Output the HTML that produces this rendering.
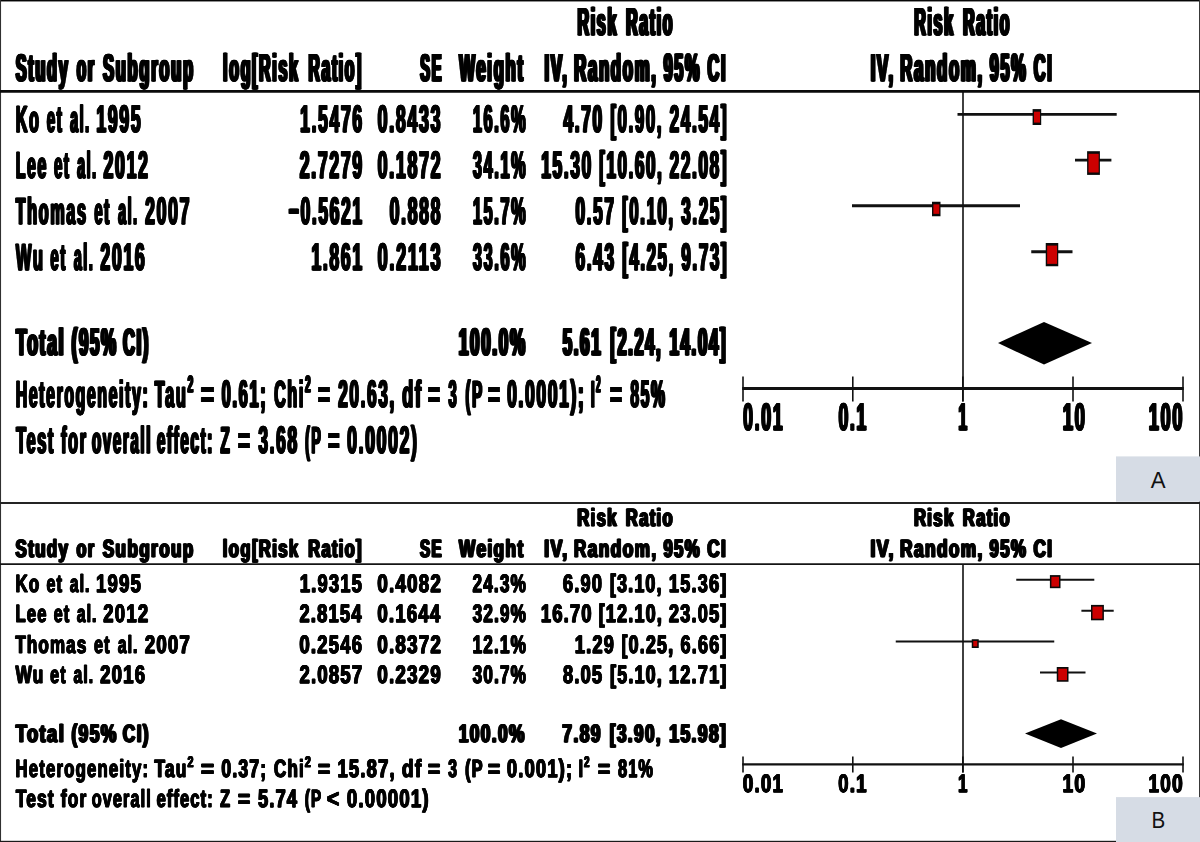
<!DOCTYPE html>
<html lang="en">
<head>
<meta charset="utf-8">
<title>Forest plots: Risk Ratio (IV, Random, 95% CI)</title>
<style>
html,body{margin:0;padding:0;background:#fff;}
body{width:1200px;height:842px;overflow:hidden;position:relative;font-family:"Liberation Sans",sans-serif;}
svg{position:absolute;left:0;top:0;display:block;}
svg{text-rendering:geometricPrecision;}
svg text{font-family:"Liberation Sans",sans-serif;font-weight:bold;font-size:40px;fill:#000;white-space:pre;}
svg text.pa{stroke:#000;stroke-width:0.9px;stroke-linejoin:round;}
svg text.pb{stroke:#000;stroke-width:1.2px;stroke-linejoin:round;}
svg text.lbl{font-weight:normal;font-size:23.4px;fill:#111;}
</style>
</head>
<body>
<svg width="1200" height="842" viewBox="0 0 1200 842">
<rect x="0" y="0" width="1200" height="842" fill="#ffffff"/>
<g id="graphics">
<line x1="963" y1="92" x2="963" y2="401.6" stroke="#111" stroke-width="1.6"/>
<line x1="742.2" y1="388.6" x2="1183.8" y2="388.6" stroke="#111" stroke-width="3.0"/>
<line x1="743" y1="376.4" x2="743" y2="401.6" stroke="#111" stroke-width="1.6"/>
<line x1="852.8" y1="376.4" x2="852.8" y2="401.6" stroke="#111" stroke-width="1.6"/>
<line x1="962.8" y1="376.4" x2="962.8" y2="401.6" stroke="#111" stroke-width="1.6"/>
<line x1="1073" y1="376.4" x2="1073" y2="401.6" stroke="#111" stroke-width="1.6"/>
<line x1="1183" y1="376.4" x2="1183" y2="401.6" stroke="#111" stroke-width="1.6"/>
<line x1="957.5" y1="114.4" x2="1116.7" y2="114.4" stroke="#111" stroke-width="2.8"/>
<rect x="1032.60" y="109.10" width="8.60" height="15.90" fill="#0a0a0a"/>
<rect x="1034.00" y="111.70" width="6.00" height="10.90" fill="#cc0000"/>
<line x1="1075" y1="160.2" x2="1111.4" y2="160.2" stroke="#111" stroke-width="2.8"/>
<rect x="1087.10" y="151.20" width="12.80" height="23.70" fill="#0a0a0a"/>
<rect x="1088.50" y="153.80" width="10.20" height="18.70" fill="#cc0000"/>
<line x1="852" y1="205.75" x2="1020" y2="205.75" stroke="#111" stroke-width="2.8"/>
<rect x="932.00" y="201.75" width="8.50" height="14.50" fill="#0a0a0a"/>
<rect x="933.40" y="204.35" width="5.90" height="9.50" fill="#cc0000"/>
<line x1="1031.25" y1="251.75" x2="1072.5" y2="251.75" stroke="#111" stroke-width="2.8"/>
<rect x="1045.75" y="243.00" width="12.50" height="23.25" fill="#0a0a0a"/>
<rect x="1047.15" y="245.60" width="9.90" height="18.25" fill="#cc0000"/>
<polygon points="998,343 1044,322 1092,343 1044,364.6" fill="#000"/>
<line x1="963" y1="564" x2="963" y2="772.4" stroke="#111" stroke-width="1.6"/>
<line x1="742.2" y1="764.4" x2="1183.8" y2="764.4" stroke="#111" stroke-width="2.2"/>
<line x1="743" y1="756.4" x2="743" y2="772.4" stroke="#111" stroke-width="1.6"/>
<line x1="852.8" y1="756.4" x2="852.8" y2="772.4" stroke="#111" stroke-width="1.6"/>
<line x1="962.8" y1="756.4" x2="962.8" y2="772.4" stroke="#111" stroke-width="1.6"/>
<line x1="1073" y1="756.4" x2="1073" y2="772.4" stroke="#111" stroke-width="1.6"/>
<line x1="1183" y1="756.4" x2="1183" y2="772.4" stroke="#111" stroke-width="1.6"/>
<line x1="1016.25" y1="579.8" x2="1094.3" y2="579.8" stroke="#111" stroke-width="2.0"/>
<rect x="1049.90" y="575.10" width="10.60" height="13.10" fill="#0a0a0a"/>
<rect x="1051.40" y="576.80" width="7.60" height="9.80" fill="#cc0000"/>
<line x1="1081.4" y1="610.7" x2="1113.7" y2="610.7" stroke="#111" stroke-width="2.0"/>
<rect x="1091.00" y="604.90" width="12.90" height="15.40" fill="#0a0a0a"/>
<rect x="1092.50" y="606.60" width="9.90" height="12.10" fill="#cc0000"/>
<line x1="895.75" y1="641.4" x2="1054.25" y2="641.4" stroke="#111" stroke-width="2.0"/>
<rect x="971.75" y="639.25" width="7.00" height="8.75" fill="#0a0a0a"/>
<rect x="973.25" y="640.95" width="4.00" height="5.45" fill="#cc0000"/>
<line x1="1040" y1="672.4" x2="1085.5" y2="672.4" stroke="#111" stroke-width="2.0"/>
<rect x="1056.75" y="667.00" width="11.75" height="14.75" fill="#0a0a0a"/>
<rect x="1058.25" y="668.70" width="8.75" height="11.45" fill="#cc0000"/>
<polygon points="1025,733.5 1061,719.25 1097,733.5 1061,748" fill="#000"/>
<rect x="0.00" y="0.00" width="1200.00" height="1.45" fill="#050505"/>
<rect x="0.00" y="0.00" width="1.05" height="842.00" fill="#303030"/>
<rect x="1199.00" y="0.00" width="1.00" height="842.00" fill="#383838"/>
<rect x="0.00" y="840.80" width="1200.00" height="1.20" fill="#1a1a1a"/>
<line x1="0" y1="91.45" x2="1200" y2="91.45" stroke="#0a0a0a" stroke-width="2.7"/>
<line x1="0" y1="502.9" x2="1200" y2="502.9" stroke="#242424" stroke-width="2.0"/>
<line x1="0" y1="564.1" x2="1200" y2="564.1" stroke="#141414" stroke-width="1.9"/>
<rect x="1116.00" y="456.40" width="84.00" height="45.30" fill="#d6dce5"/>
<rect x="1116.00" y="797.10" width="84.00" height="45.00" fill="#d6dce5"/>
</g>
<g id="labels" style="opacity:0.999">
<text class="pa" letter-spacing="4.20" transform="translate(576.44 35.00) scale(0.4002 0.9641)">Risk</text>
<text class="pa" aria-hidden="true" letter-spacing="4.20" transform="translate(576.95 35.00) scale(0.4002 0.9641)">Risk</text>
<text class="pa" aria-hidden="true" letter-spacing="4.20" transform="translate(577.46 35.00) scale(0.4002 0.9641)">Risk</text>
<text class="pa" aria-hidden="true" letter-spacing="4.20" transform="translate(577.97 35.00) scale(0.4002 0.9641)">Risk</text>
<text class="pa" aria-hidden="true" letter-spacing="4.20" transform="translate(578.48 35.00) scale(0.4002 0.9641)">Risk</text>
<text class="pa" letter-spacing="4.24" transform="translate(625.10 35.00) scale(0.3961 0.9641)">Ratio</text>
<text class="pa" aria-hidden="true" letter-spacing="4.24" transform="translate(625.61 35.00) scale(0.3961 0.9641)">Ratio</text>
<text class="pa" aria-hidden="true" letter-spacing="4.24" transform="translate(626.12 35.00) scale(0.3961 0.9641)">Ratio</text>
<text class="pa" aria-hidden="true" letter-spacing="4.24" transform="translate(626.63 35.00) scale(0.3961 0.9641)">Ratio</text>
<text class="pa" aria-hidden="true" letter-spacing="4.24" transform="translate(627.14 35.00) scale(0.3961 0.9641)">Ratio</text>
<text class="pa" letter-spacing="4.20" transform="translate(913.14 35.00) scale(0.4002 0.9641)">Risk</text>
<text class="pa" aria-hidden="true" letter-spacing="4.20" transform="translate(913.65 35.00) scale(0.4002 0.9641)">Risk</text>
<text class="pa" aria-hidden="true" letter-spacing="4.20" transform="translate(914.16 35.00) scale(0.4002 0.9641)">Risk</text>
<text class="pa" aria-hidden="true" letter-spacing="4.20" transform="translate(914.67 35.00) scale(0.4002 0.9641)">Risk</text>
<text class="pa" aria-hidden="true" letter-spacing="4.20" transform="translate(915.18 35.00) scale(0.4002 0.9641)">Risk</text>
<text class="pa" letter-spacing="4.24" transform="translate(962.10 35.00) scale(0.3961 0.9641)">Ratio</text>
<text class="pa" aria-hidden="true" letter-spacing="4.24" transform="translate(962.61 35.00) scale(0.3961 0.9641)">Ratio</text>
<text class="pa" aria-hidden="true" letter-spacing="4.24" transform="translate(963.12 35.00) scale(0.3961 0.9641)">Ratio</text>
<text class="pa" aria-hidden="true" letter-spacing="4.24" transform="translate(963.63 35.00) scale(0.3961 0.9641)">Ratio</text>
<text class="pa" aria-hidden="true" letter-spacing="4.24" transform="translate(964.14 35.00) scale(0.3961 0.9641)">Ratio</text>
<text class="pa" letter-spacing="4.13" transform="translate(14.69 81.00) scale(0.4077 0.9641)">Study</text>
<text class="pa" aria-hidden="true" letter-spacing="4.13" transform="translate(15.20 81.00) scale(0.4077 0.9641)">Study</text>
<text class="pa" aria-hidden="true" letter-spacing="4.13" transform="translate(15.71 81.00) scale(0.4077 0.9641)">Study</text>
<text class="pa" aria-hidden="true" letter-spacing="4.13" transform="translate(16.22 81.00) scale(0.4077 0.9641)">Study</text>
<text class="pa" aria-hidden="true" letter-spacing="4.13" transform="translate(16.73 81.00) scale(0.4077 0.9641)">Study</text>
<text class="pa" letter-spacing="4.35" transform="translate(75.81 81.00) scale(0.3839 0.9641)">or</text>
<text class="pa" aria-hidden="true" letter-spacing="4.35" transform="translate(76.32 81.00) scale(0.3839 0.9641)">or</text>
<text class="pa" aria-hidden="true" letter-spacing="4.35" transform="translate(76.83 81.00) scale(0.3839 0.9641)">or</text>
<text class="pa" aria-hidden="true" letter-spacing="4.35" transform="translate(77.34 81.00) scale(0.3839 0.9641)">or</text>
<text class="pa" aria-hidden="true" letter-spacing="4.35" transform="translate(77.85 81.00) scale(0.3839 0.9641)">or</text>
<text class="pa" letter-spacing="4.07" transform="translate(101.94 81.00) scale(0.4146 0.9641)">Subgroup</text>
<text class="pa" aria-hidden="true" letter-spacing="4.07" transform="translate(102.45 81.00) scale(0.4146 0.9641)">Subgroup</text>
<text class="pa" aria-hidden="true" letter-spacing="4.07" transform="translate(102.96 81.00) scale(0.4146 0.9641)">Subgroup</text>
<text class="pa" aria-hidden="true" letter-spacing="4.07" transform="translate(103.47 81.00) scale(0.4146 0.9641)">Subgroup</text>
<text class="pa" aria-hidden="true" letter-spacing="4.07" transform="translate(103.98 81.00) scale(0.4146 0.9641)">Subgroup</text>
<text class="pa" letter-spacing="4.20" transform="translate(222.06 81.00) scale(0.3998 0.9641)">log[Risk</text>
<text class="pa" aria-hidden="true" letter-spacing="4.20" transform="translate(222.57 81.00) scale(0.3998 0.9641)">log[Risk</text>
<text class="pa" aria-hidden="true" letter-spacing="4.20" transform="translate(223.08 81.00) scale(0.3998 0.9641)">log[Risk</text>
<text class="pa" aria-hidden="true" letter-spacing="4.20" transform="translate(223.59 81.00) scale(0.3998 0.9641)">log[Risk</text>
<text class="pa" aria-hidden="true" letter-spacing="4.20" transform="translate(224.10 81.00) scale(0.3998 0.9641)">log[Risk</text>
<text class="pa" letter-spacing="4.27" transform="translate(307.52 81.00) scale(0.3918 0.9641)">Ratio]</text>
<text class="pa" aria-hidden="true" letter-spacing="4.27" transform="translate(308.03 81.00) scale(0.3918 0.9641)">Ratio]</text>
<text class="pa" aria-hidden="true" letter-spacing="4.27" transform="translate(308.54 81.00) scale(0.3918 0.9641)">Ratio]</text>
<text class="pa" aria-hidden="true" letter-spacing="4.27" transform="translate(309.05 81.00) scale(0.3918 0.9641)">Ratio]</text>
<text class="pa" aria-hidden="true" letter-spacing="4.27" transform="translate(309.56 81.00) scale(0.3918 0.9641)">Ratio]</text>
<text class="pa" letter-spacing="4.56" transform="translate(419.33 81.00) scale(0.3632 0.9641)">SE</text>
<text class="pa" aria-hidden="true" letter-spacing="4.56" transform="translate(419.84 81.00) scale(0.3632 0.9641)">SE</text>
<text class="pa" aria-hidden="true" letter-spacing="4.56" transform="translate(420.35 81.00) scale(0.3632 0.9641)">SE</text>
<text class="pa" aria-hidden="true" letter-spacing="4.56" transform="translate(420.86 81.00) scale(0.3632 0.9641)">SE</text>
<text class="pa" aria-hidden="true" letter-spacing="4.56" transform="translate(421.37 81.00) scale(0.3632 0.9641)">SE</text>
<text class="pa" letter-spacing="4.05" transform="translate(458.19 81.00) scale(0.4176 0.9641)">Weight</text>
<text class="pa" aria-hidden="true" letter-spacing="4.05" transform="translate(458.70 81.00) scale(0.4176 0.9641)">Weight</text>
<text class="pa" aria-hidden="true" letter-spacing="4.05" transform="translate(459.21 81.00) scale(0.4176 0.9641)">Weight</text>
<text class="pa" aria-hidden="true" letter-spacing="4.05" transform="translate(459.72 81.00) scale(0.4176 0.9641)">Weight</text>
<text class="pa" aria-hidden="true" letter-spacing="4.05" transform="translate(460.23 81.00) scale(0.4176 0.9641)">Weight</text>
<text class="pa" letter-spacing="4.03" transform="translate(543.50 81.00) scale(0.4199 0.9641)">IV,</text>
<text class="pa" aria-hidden="true" letter-spacing="4.03" transform="translate(544.01 81.00) scale(0.4199 0.9641)">IV,</text>
<text class="pa" aria-hidden="true" letter-spacing="4.03" transform="translate(544.52 81.00) scale(0.4199 0.9641)">IV,</text>
<text class="pa" aria-hidden="true" letter-spacing="4.03" transform="translate(545.03 81.00) scale(0.4199 0.9641)">IV,</text>
<text class="pa" aria-hidden="true" letter-spacing="4.03" transform="translate(545.54 81.00) scale(0.4199 0.9641)">IV,</text>
<text class="pa" letter-spacing="4.04" transform="translate(573.10 81.00) scale(0.4188 0.9641)">Random,</text>
<text class="pa" aria-hidden="true" letter-spacing="4.04" transform="translate(573.61 81.00) scale(0.4188 0.9641)">Random,</text>
<text class="pa" aria-hidden="true" letter-spacing="4.04" transform="translate(574.12 81.00) scale(0.4188 0.9641)">Random,</text>
<text class="pa" aria-hidden="true" letter-spacing="4.04" transform="translate(574.63 81.00) scale(0.4188 0.9641)">Random,</text>
<text class="pa" aria-hidden="true" letter-spacing="4.04" transform="translate(575.14 81.00) scale(0.4188 0.9641)">Random,</text>
<text class="pa" letter-spacing="4.16" transform="translate(662.62 81.00) scale(0.4050 0.9837)">95%</text>
<text class="pa" aria-hidden="true" letter-spacing="4.16" transform="translate(663.13 81.00) scale(0.4050 0.9837)">95%</text>
<text class="pa" aria-hidden="true" letter-spacing="4.16" transform="translate(663.64 81.00) scale(0.4050 0.9837)">95%</text>
<text class="pa" aria-hidden="true" letter-spacing="4.16" transform="translate(664.15 81.00) scale(0.4050 0.9837)">95%</text>
<text class="pa" aria-hidden="true" letter-spacing="4.16" transform="translate(664.66 81.00) scale(0.4050 0.9837)">95%</text>
<text class="pa" letter-spacing="4.13" transform="translate(706.53 81.00) scale(0.4075 0.9641)">CI</text>
<text class="pa" aria-hidden="true" letter-spacing="4.13" transform="translate(707.04 81.00) scale(0.4075 0.9641)">CI</text>
<text class="pa" aria-hidden="true" letter-spacing="4.13" transform="translate(707.55 81.00) scale(0.4075 0.9641)">CI</text>
<text class="pa" aria-hidden="true" letter-spacing="4.13" transform="translate(708.06 81.00) scale(0.4075 0.9641)">CI</text>
<text class="pa" aria-hidden="true" letter-spacing="4.13" transform="translate(708.57 81.00) scale(0.4075 0.9641)">CI</text>
<text class="pa" letter-spacing="4.03" transform="translate(869.70 81.00) scale(0.4199 0.9641)">IV,</text>
<text class="pa" aria-hidden="true" letter-spacing="4.03" transform="translate(870.21 81.00) scale(0.4199 0.9641)">IV,</text>
<text class="pa" aria-hidden="true" letter-spacing="4.03" transform="translate(870.72 81.00) scale(0.4199 0.9641)">IV,</text>
<text class="pa" aria-hidden="true" letter-spacing="4.03" transform="translate(871.23 81.00) scale(0.4199 0.9641)">IV,</text>
<text class="pa" aria-hidden="true" letter-spacing="4.03" transform="translate(871.74 81.00) scale(0.4199 0.9641)">IV,</text>
<text class="pa" letter-spacing="4.04" transform="translate(899.30 81.00) scale(0.4188 0.9641)">Random,</text>
<text class="pa" aria-hidden="true" letter-spacing="4.04" transform="translate(899.81 81.00) scale(0.4188 0.9641)">Random,</text>
<text class="pa" aria-hidden="true" letter-spacing="4.04" transform="translate(900.32 81.00) scale(0.4188 0.9641)">Random,</text>
<text class="pa" aria-hidden="true" letter-spacing="4.04" transform="translate(900.83 81.00) scale(0.4188 0.9641)">Random,</text>
<text class="pa" aria-hidden="true" letter-spacing="4.04" transform="translate(901.34 81.00) scale(0.4188 0.9641)">Random,</text>
<text class="pa" letter-spacing="4.16" transform="translate(988.82 81.00) scale(0.4050 0.9837)">95%</text>
<text class="pa" aria-hidden="true" letter-spacing="4.16" transform="translate(989.33 81.00) scale(0.4050 0.9837)">95%</text>
<text class="pa" aria-hidden="true" letter-spacing="4.16" transform="translate(989.84 81.00) scale(0.4050 0.9837)">95%</text>
<text class="pa" aria-hidden="true" letter-spacing="4.16" transform="translate(990.35 81.00) scale(0.4050 0.9837)">95%</text>
<text class="pa" aria-hidden="true" letter-spacing="4.16" transform="translate(990.86 81.00) scale(0.4050 0.9837)">95%</text>
<text class="pa" letter-spacing="4.13" transform="translate(1032.73 81.00) scale(0.4075 0.9641)">CI</text>
<text class="pa" aria-hidden="true" letter-spacing="4.13" transform="translate(1033.24 81.00) scale(0.4075 0.9641)">CI</text>
<text class="pa" aria-hidden="true" letter-spacing="4.13" transform="translate(1033.75 81.00) scale(0.4075 0.9641)">CI</text>
<text class="pa" aria-hidden="true" letter-spacing="4.13" transform="translate(1034.26 81.00) scale(0.4075 0.9641)">CI</text>
<text class="pa" aria-hidden="true" letter-spacing="4.13" transform="translate(1034.77 81.00) scale(0.4075 0.9641)">CI</text>
<text class="pa" letter-spacing="4.19" transform="translate(15.14 132.00) scale(0.4014 0.9402)">Ko</text>
<text class="pa" aria-hidden="true" letter-spacing="4.19" transform="translate(15.58 132.00) scale(0.4014 0.9402)">Ko</text>
<text class="pa" aria-hidden="true" letter-spacing="4.19" transform="translate(16.02 132.00) scale(0.4014 0.9402)">Ko</text>
<text class="pa" aria-hidden="true" letter-spacing="4.19" transform="translate(16.46 132.00) scale(0.4014 0.9402)">Ko</text>
<text class="pa" letter-spacing="4.46" transform="translate(46.16 132.00) scale(0.3710 0.9402)">et</text>
<text class="pa" aria-hidden="true" letter-spacing="4.46" transform="translate(46.60 132.00) scale(0.3710 0.9402)">et</text>
<text class="pa" aria-hidden="true" letter-spacing="4.46" transform="translate(47.04 132.00) scale(0.3710 0.9402)">et</text>
<text class="pa" aria-hidden="true" letter-spacing="4.46" transform="translate(47.48 132.00) scale(0.3710 0.9402)">et</text>
<text class="pa" letter-spacing="4.68" transform="translate(69.58 132.00) scale(0.3492 0.9402)">al.</text>
<text class="pa" aria-hidden="true" letter-spacing="4.68" transform="translate(70.02 132.00) scale(0.3492 0.9402)">al.</text>
<text class="pa" aria-hidden="true" letter-spacing="4.68" transform="translate(70.46 132.00) scale(0.3492 0.9402)">al.</text>
<text class="pa" aria-hidden="true" letter-spacing="4.68" transform="translate(70.90 132.00) scale(0.3492 0.9402)">al.</text>
<text class="pa" letter-spacing="3.90" transform="translate(95.63 132.00) scale(0.4398 0.9594)">1995</text>
<text class="pa" aria-hidden="true" letter-spacing="3.90" transform="translate(96.07 132.00) scale(0.4398 0.9594)">1995</text>
<text class="pa" aria-hidden="true" letter-spacing="3.90" transform="translate(96.51 132.00) scale(0.4398 0.9594)">1995</text>
<text class="pa" aria-hidden="true" letter-spacing="3.90" transform="translate(96.95 132.00) scale(0.4398 0.9594)">1995</text>
<text class="pa" letter-spacing="4.26" transform="translate(15.16 178.00) scale(0.3925 0.9402)">Lee</text>
<text class="pa" aria-hidden="true" letter-spacing="4.26" transform="translate(15.60 178.00) scale(0.3925 0.9402)">Lee</text>
<text class="pa" aria-hidden="true" letter-spacing="4.26" transform="translate(16.04 178.00) scale(0.3925 0.9402)">Lee</text>
<text class="pa" aria-hidden="true" letter-spacing="4.26" transform="translate(16.48 178.00) scale(0.3925 0.9402)">Lee</text>
<text class="pa" letter-spacing="4.46" transform="translate(53.38 178.00) scale(0.3710 0.9402)">et</text>
<text class="pa" aria-hidden="true" letter-spacing="4.46" transform="translate(53.82 178.00) scale(0.3710 0.9402)">et</text>
<text class="pa" aria-hidden="true" letter-spacing="4.46" transform="translate(54.26 178.00) scale(0.3710 0.9402)">et</text>
<text class="pa" aria-hidden="true" letter-spacing="4.46" transform="translate(54.70 178.00) scale(0.3710 0.9402)">et</text>
<text class="pa" letter-spacing="4.68" transform="translate(76.59 178.00) scale(0.3492 0.9402)">al.</text>
<text class="pa" aria-hidden="true" letter-spacing="4.68" transform="translate(77.03 178.00) scale(0.3492 0.9402)">al.</text>
<text class="pa" aria-hidden="true" letter-spacing="4.68" transform="translate(77.47 178.00) scale(0.3492 0.9402)">al.</text>
<text class="pa" aria-hidden="true" letter-spacing="4.68" transform="translate(77.91 178.00) scale(0.3492 0.9402)">al.</text>
<text class="pa" letter-spacing="3.90" transform="translate(102.86 178.00) scale(0.4402 0.9594)">2012</text>
<text class="pa" aria-hidden="true" letter-spacing="3.90" transform="translate(103.30 178.00) scale(0.4402 0.9594)">2012</text>
<text class="pa" aria-hidden="true" letter-spacing="3.90" transform="translate(103.74 178.00) scale(0.4402 0.9594)">2012</text>
<text class="pa" aria-hidden="true" letter-spacing="3.90" transform="translate(104.18 178.00) scale(0.4402 0.9594)">2012</text>
<text class="pa" letter-spacing="4.17" transform="translate(15.02 224.00) scale(0.4033 0.9402)">Thomas</text>
<text class="pa" aria-hidden="true" letter-spacing="4.17" transform="translate(15.46 224.00) scale(0.4033 0.9402)">Thomas</text>
<text class="pa" aria-hidden="true" letter-spacing="4.17" transform="translate(15.90 224.00) scale(0.4033 0.9402)">Thomas</text>
<text class="pa" aria-hidden="true" letter-spacing="4.17" transform="translate(16.34 224.00) scale(0.4033 0.9402)">Thomas</text>
<text class="pa" letter-spacing="4.46" transform="translate(93.71 224.00) scale(0.3710 0.9402)">et</text>
<text class="pa" aria-hidden="true" letter-spacing="4.46" transform="translate(94.15 224.00) scale(0.3710 0.9402)">et</text>
<text class="pa" aria-hidden="true" letter-spacing="4.46" transform="translate(94.59 224.00) scale(0.3710 0.9402)">et</text>
<text class="pa" aria-hidden="true" letter-spacing="4.46" transform="translate(95.03 224.00) scale(0.3710 0.9402)">et</text>
<text class="pa" letter-spacing="4.68" transform="translate(117.56 224.00) scale(0.3492 0.9402)">al.</text>
<text class="pa" aria-hidden="true" letter-spacing="4.68" transform="translate(118.00 224.00) scale(0.3492 0.9402)">al.</text>
<text class="pa" aria-hidden="true" letter-spacing="4.68" transform="translate(118.44 224.00) scale(0.3492 0.9402)">al.</text>
<text class="pa" aria-hidden="true" letter-spacing="4.68" transform="translate(118.88 224.00) scale(0.3492 0.9402)">al.</text>
<text class="pa" letter-spacing="3.90" transform="translate(144.46 224.00) scale(0.4402 0.9594)">2007</text>
<text class="pa" aria-hidden="true" letter-spacing="3.90" transform="translate(144.90 224.00) scale(0.4402 0.9594)">2007</text>
<text class="pa" aria-hidden="true" letter-spacing="3.90" transform="translate(145.34 224.00) scale(0.4402 0.9594)">2007</text>
<text class="pa" aria-hidden="true" letter-spacing="3.90" transform="translate(145.78 224.00) scale(0.4402 0.9594)">2007</text>
<text class="pa" letter-spacing="4.10" transform="translate(15.19 270.00) scale(0.4125 0.9402)">Wu</text>
<text class="pa" aria-hidden="true" letter-spacing="4.10" transform="translate(15.63 270.00) scale(0.4125 0.9402)">Wu</text>
<text class="pa" aria-hidden="true" letter-spacing="4.10" transform="translate(16.07 270.00) scale(0.4125 0.9402)">Wu</text>
<text class="pa" aria-hidden="true" letter-spacing="4.10" transform="translate(16.51 270.00) scale(0.4125 0.9402)">Wu</text>
<text class="pa" letter-spacing="4.46" transform="translate(49.80 270.00) scale(0.3710 0.9402)">et</text>
<text class="pa" aria-hidden="true" letter-spacing="4.46" transform="translate(50.24 270.00) scale(0.3710 0.9402)">et</text>
<text class="pa" aria-hidden="true" letter-spacing="4.46" transform="translate(50.68 270.00) scale(0.3710 0.9402)">et</text>
<text class="pa" aria-hidden="true" letter-spacing="4.46" transform="translate(51.12 270.00) scale(0.3710 0.9402)">et</text>
<text class="pa" letter-spacing="4.68" transform="translate(73.25 270.00) scale(0.3492 0.9402)">al.</text>
<text class="pa" aria-hidden="true" letter-spacing="4.68" transform="translate(73.69 270.00) scale(0.3492 0.9402)">al.</text>
<text class="pa" aria-hidden="true" letter-spacing="4.68" transform="translate(74.13 270.00) scale(0.3492 0.9402)">al.</text>
<text class="pa" aria-hidden="true" letter-spacing="4.68" transform="translate(74.57 270.00) scale(0.3492 0.9402)">al.</text>
<text class="pa" letter-spacing="3.90" transform="translate(99.76 270.00) scale(0.4404 0.9594)">2016</text>
<text class="pa" aria-hidden="true" letter-spacing="3.90" transform="translate(100.20 270.00) scale(0.4404 0.9594)">2016</text>
<text class="pa" aria-hidden="true" letter-spacing="3.90" transform="translate(100.64 270.00) scale(0.4404 0.9594)">2016</text>
<text class="pa" aria-hidden="true" letter-spacing="3.90" transform="translate(101.08 270.00) scale(0.4404 0.9594)">2016</text>
<text class="pa" letter-spacing="3.92" transform="translate(299.45 132.00) scale(0.4369 0.9594)">1.5476</text>
<text class="pa" aria-hidden="true" letter-spacing="3.92" transform="translate(299.89 132.00) scale(0.4369 0.9594)">1.5476</text>
<text class="pa" aria-hidden="true" letter-spacing="3.92" transform="translate(300.33 132.00) scale(0.4369 0.9594)">1.5476</text>
<text class="pa" aria-hidden="true" letter-spacing="3.92" transform="translate(300.77 132.00) scale(0.4369 0.9594)">1.5476</text>
<text class="pa" letter-spacing="3.90" transform="translate(299.08 178.00) scale(0.4398 0.9594)">2.7279</text>
<text class="pa" aria-hidden="true" letter-spacing="3.90" transform="translate(299.52 178.00) scale(0.4398 0.9594)">2.7279</text>
<text class="pa" aria-hidden="true" letter-spacing="3.90" transform="translate(299.96 178.00) scale(0.4398 0.9594)">2.7279</text>
<text class="pa" aria-hidden="true" letter-spacing="3.90" transform="translate(300.40 178.00) scale(0.4398 0.9594)">2.7279</text>
<text class="pa" letter-spacing="3.95" transform="translate(288.10 224.00) scale(0.4324 0.9594)">−0.5621</text>
<text class="pa" aria-hidden="true" letter-spacing="3.95" transform="translate(288.54 224.00) scale(0.4324 0.9594)">−0.5621</text>
<text class="pa" aria-hidden="true" letter-spacing="3.95" transform="translate(288.98 224.00) scale(0.4324 0.9594)">−0.5621</text>
<text class="pa" aria-hidden="true" letter-spacing="3.95" transform="translate(289.42 224.00) scale(0.4324 0.9594)">−0.5621</text>
<text class="pa" letter-spacing="3.92" transform="translate(310.75 270.00) scale(0.4372 0.9594)">1.861</text>
<text class="pa" aria-hidden="true" letter-spacing="3.92" transform="translate(311.19 270.00) scale(0.4372 0.9594)">1.861</text>
<text class="pa" aria-hidden="true" letter-spacing="3.92" transform="translate(311.63 270.00) scale(0.4372 0.9594)">1.861</text>
<text class="pa" aria-hidden="true" letter-spacing="3.92" transform="translate(312.07 270.00) scale(0.4372 0.9594)">1.861</text>
<text class="pa" letter-spacing="3.88" transform="translate(376.99 132.00) scale(0.4429 0.9594)">0.8433</text>
<text class="pa" aria-hidden="true" letter-spacing="3.88" transform="translate(377.43 132.00) scale(0.4429 0.9594)">0.8433</text>
<text class="pa" aria-hidden="true" letter-spacing="3.88" transform="translate(377.87 132.00) scale(0.4429 0.9594)">0.8433</text>
<text class="pa" aria-hidden="true" letter-spacing="3.88" transform="translate(378.31 132.00) scale(0.4429 0.9594)">0.8433</text>
<text class="pa" letter-spacing="3.88" transform="translate(376.99 178.00) scale(0.4437 0.9594)">0.1872</text>
<text class="pa" aria-hidden="true" letter-spacing="3.88" transform="translate(377.43 178.00) scale(0.4437 0.9594)">0.1872</text>
<text class="pa" aria-hidden="true" letter-spacing="3.88" transform="translate(377.87 178.00) scale(0.4437 0.9594)">0.1872</text>
<text class="pa" aria-hidden="true" letter-spacing="3.88" transform="translate(378.31 178.00) scale(0.4437 0.9594)">0.1872</text>
<text class="pa" letter-spacing="3.91" transform="translate(389.00 224.00) scale(0.4385 0.9594)">0.888</text>
<text class="pa" aria-hidden="true" letter-spacing="3.91" transform="translate(389.44 224.00) scale(0.4385 0.9594)">0.888</text>
<text class="pa" aria-hidden="true" letter-spacing="3.91" transform="translate(389.88 224.00) scale(0.4385 0.9594)">0.888</text>
<text class="pa" aria-hidden="true" letter-spacing="3.91" transform="translate(390.32 224.00) scale(0.4385 0.9594)">0.888</text>
<text class="pa" letter-spacing="3.82" transform="translate(376.98 270.00) scale(0.4516 0.9594)">0.2113</text>
<text class="pa" aria-hidden="true" letter-spacing="3.82" transform="translate(377.42 270.00) scale(0.4516 0.9594)">0.2113</text>
<text class="pa" aria-hidden="true" letter-spacing="3.82" transform="translate(377.86 270.00) scale(0.4516 0.9594)">0.2113</text>
<text class="pa" aria-hidden="true" letter-spacing="3.82" transform="translate(378.30 270.00) scale(0.4516 0.9594)">0.2113</text>
<text class="pa" letter-spacing="4.16" transform="translate(472.21 132.00) scale(0.4052 0.9594)">16.6%</text>
<text class="pa" aria-hidden="true" letter-spacing="4.16" transform="translate(472.65 132.00) scale(0.4052 0.9594)">16.6%</text>
<text class="pa" aria-hidden="true" letter-spacing="4.16" transform="translate(473.09 132.00) scale(0.4052 0.9594)">16.6%</text>
<text class="pa" aria-hidden="true" letter-spacing="4.16" transform="translate(473.53 132.00) scale(0.4052 0.9594)">16.6%</text>
<text class="pa" letter-spacing="4.16" transform="translate(472.28 178.00) scale(0.4047 0.9594)">34.1%</text>
<text class="pa" aria-hidden="true" letter-spacing="4.16" transform="translate(472.72 178.00) scale(0.4047 0.9594)">34.1%</text>
<text class="pa" aria-hidden="true" letter-spacing="4.16" transform="translate(473.16 178.00) scale(0.4047 0.9594)">34.1%</text>
<text class="pa" aria-hidden="true" letter-spacing="4.16" transform="translate(473.60 178.00) scale(0.4047 0.9594)">34.1%</text>
<text class="pa" letter-spacing="4.16" transform="translate(472.21 224.00) scale(0.4052 0.9594)">15.7%</text>
<text class="pa" aria-hidden="true" letter-spacing="4.16" transform="translate(472.65 224.00) scale(0.4052 0.9594)">15.7%</text>
<text class="pa" aria-hidden="true" letter-spacing="4.16" transform="translate(473.09 224.00) scale(0.4052 0.9594)">15.7%</text>
<text class="pa" aria-hidden="true" letter-spacing="4.16" transform="translate(473.53 224.00) scale(0.4052 0.9594)">15.7%</text>
<text class="pa" letter-spacing="4.16" transform="translate(472.28 270.00) scale(0.4047 0.9594)">33.6%</text>
<text class="pa" aria-hidden="true" letter-spacing="4.16" transform="translate(472.72 270.00) scale(0.4047 0.9594)">33.6%</text>
<text class="pa" aria-hidden="true" letter-spacing="4.16" transform="translate(473.16 270.00) scale(0.4047 0.9594)">33.6%</text>
<text class="pa" aria-hidden="true" letter-spacing="4.16" transform="translate(473.60 270.00) scale(0.4047 0.9594)">33.6%</text>
<text class="pa" letter-spacing="3.97" transform="translate(562.84 132.00) scale(0.4297 0.9594)">4.70</text>
<text class="pa" aria-hidden="true" letter-spacing="3.97" transform="translate(563.28 132.00) scale(0.4297 0.9594)">4.70</text>
<text class="pa" aria-hidden="true" letter-spacing="3.97" transform="translate(563.72 132.00) scale(0.4297 0.9594)">4.70</text>
<text class="pa" aria-hidden="true" letter-spacing="3.97" transform="translate(564.16 132.00) scale(0.4297 0.9594)">4.70</text>
<text class="pa" letter-spacing="4.08" transform="translate(609.76 132.00) scale(0.4156 0.9594)">[0.90,</text>
<text class="pa" aria-hidden="true" letter-spacing="4.08" transform="translate(610.20 132.00) scale(0.4156 0.9594)">[0.90,</text>
<text class="pa" aria-hidden="true" letter-spacing="4.08" transform="translate(610.64 132.00) scale(0.4156 0.9594)">[0.90,</text>
<text class="pa" aria-hidden="true" letter-spacing="4.08" transform="translate(611.08 132.00) scale(0.4156 0.9594)">[0.90,</text>
<text class="pa" letter-spacing="3.99" transform="translate(669.00 132.00) scale(0.4269 0.9594)">24.54]</text>
<text class="pa" aria-hidden="true" letter-spacing="3.99" transform="translate(669.44 132.00) scale(0.4269 0.9594)">24.54]</text>
<text class="pa" aria-hidden="true" letter-spacing="3.99" transform="translate(669.88 132.00) scale(0.4269 0.9594)">24.54]</text>
<text class="pa" aria-hidden="true" letter-spacing="3.99" transform="translate(670.32 132.00) scale(0.4269 0.9594)">24.54]</text>
<text class="pa" letter-spacing="3.96" transform="translate(540.56 178.00) scale(0.4310 0.9594)">15.30</text>
<text class="pa" aria-hidden="true" letter-spacing="3.96" transform="translate(541.00 178.00) scale(0.4310 0.9594)">15.30</text>
<text class="pa" aria-hidden="true" letter-spacing="3.96" transform="translate(541.44 178.00) scale(0.4310 0.9594)">15.30</text>
<text class="pa" aria-hidden="true" letter-spacing="3.96" transform="translate(541.88 178.00) scale(0.4310 0.9594)">15.30</text>
<text class="pa" letter-spacing="4.04" transform="translate(598.53 178.00) scale(0.4206 0.9594)">[10.60,</text>
<text class="pa" aria-hidden="true" letter-spacing="4.04" transform="translate(598.97 178.00) scale(0.4206 0.9594)">[10.60,</text>
<text class="pa" aria-hidden="true" letter-spacing="4.04" transform="translate(599.41 178.00) scale(0.4206 0.9594)">[10.60,</text>
<text class="pa" aria-hidden="true" letter-spacing="4.04" transform="translate(599.85 178.00) scale(0.4206 0.9594)">[10.60,</text>
<text class="pa" letter-spacing="3.99" transform="translate(669.00 178.00) scale(0.4269 0.9594)">22.08]</text>
<text class="pa" aria-hidden="true" letter-spacing="3.99" transform="translate(669.44 178.00) scale(0.4269 0.9594)">22.08]</text>
<text class="pa" aria-hidden="true" letter-spacing="3.99" transform="translate(669.88 178.00) scale(0.4269 0.9594)">22.08]</text>
<text class="pa" aria-hidden="true" letter-spacing="3.99" transform="translate(670.32 178.00) scale(0.4269 0.9594)">22.08]</text>
<text class="pa" letter-spacing="3.98" transform="translate(574.81 224.00) scale(0.4285 0.9594)">0.57</text>
<text class="pa" aria-hidden="true" letter-spacing="3.98" transform="translate(575.25 224.00) scale(0.4285 0.9594)">0.57</text>
<text class="pa" aria-hidden="true" letter-spacing="3.98" transform="translate(575.69 224.00) scale(0.4285 0.9594)">0.57</text>
<text class="pa" aria-hidden="true" letter-spacing="3.98" transform="translate(576.13 224.00) scale(0.4285 0.9594)">0.57</text>
<text class="pa" letter-spacing="4.08" transform="translate(621.42 224.00) scale(0.4156 0.9594)">[0.10,</text>
<text class="pa" aria-hidden="true" letter-spacing="4.08" transform="translate(621.86 224.00) scale(0.4156 0.9594)">[0.10,</text>
<text class="pa" aria-hidden="true" letter-spacing="4.08" transform="translate(622.30 224.00) scale(0.4156 0.9594)">[0.10,</text>
<text class="pa" aria-hidden="true" letter-spacing="4.08" transform="translate(622.74 224.00) scale(0.4156 0.9594)">[0.10,</text>
<text class="pa" letter-spacing="4.02" transform="translate(680.61 224.00) scale(0.4231 0.9594)">3.25]</text>
<text class="pa" aria-hidden="true" letter-spacing="4.02" transform="translate(681.05 224.00) scale(0.4231 0.9594)">3.25]</text>
<text class="pa" aria-hidden="true" letter-spacing="4.02" transform="translate(681.49 224.00) scale(0.4231 0.9594)">3.25]</text>
<text class="pa" aria-hidden="true" letter-spacing="4.02" transform="translate(681.93 224.00) scale(0.4231 0.9594)">3.25]</text>
<text class="pa" letter-spacing="3.98" transform="translate(574.89 270.00) scale(0.4290 0.9594)">6.43</text>
<text class="pa" aria-hidden="true" letter-spacing="3.98" transform="translate(575.33 270.00) scale(0.4290 0.9594)">6.43</text>
<text class="pa" aria-hidden="true" letter-spacing="3.98" transform="translate(575.77 270.00) scale(0.4290 0.9594)">6.43</text>
<text class="pa" aria-hidden="true" letter-spacing="3.98" transform="translate(576.21 270.00) scale(0.4290 0.9594)">6.43</text>
<text class="pa" letter-spacing="4.08" transform="translate(621.62 270.00) scale(0.4156 0.9594)">[4.25,</text>
<text class="pa" aria-hidden="true" letter-spacing="4.08" transform="translate(622.06 270.00) scale(0.4156 0.9594)">[4.25,</text>
<text class="pa" aria-hidden="true" letter-spacing="4.08" transform="translate(622.50 270.00) scale(0.4156 0.9594)">[4.25,</text>
<text class="pa" aria-hidden="true" letter-spacing="4.08" transform="translate(622.94 270.00) scale(0.4156 0.9594)">[4.25,</text>
<text class="pa" letter-spacing="4.02" transform="translate(680.65 270.00) scale(0.4227 0.9594)">9.73]</text>
<text class="pa" aria-hidden="true" letter-spacing="4.02" transform="translate(681.09 270.00) scale(0.4227 0.9594)">9.73]</text>
<text class="pa" aria-hidden="true" letter-spacing="4.02" transform="translate(681.53 270.00) scale(0.4227 0.9594)">9.73]</text>
<text class="pa" aria-hidden="true" letter-spacing="4.02" transform="translate(681.97 270.00) scale(0.4227 0.9594)">9.73]</text>
<text class="pa" letter-spacing="3.88" transform="translate(15.02 355.00) scale(0.4390 0.9402)">Total</text>
<text class="pa" aria-hidden="true" letter-spacing="3.88" transform="translate(15.53 355.00) scale(0.4390 0.9402)">Total</text>
<text class="pa" aria-hidden="true" letter-spacing="3.88" transform="translate(16.04 355.00) scale(0.4390 0.9402)">Total</text>
<text class="pa" aria-hidden="true" letter-spacing="3.88" transform="translate(16.55 355.00) scale(0.4390 0.9402)">Total</text>
<text class="pa" aria-hidden="true" letter-spacing="3.88" transform="translate(17.06 355.00) scale(0.4390 0.9402)">Total</text>
<text class="pa" letter-spacing="4.01" transform="translate(70.60 355.00) scale(0.4220 0.9594)">(95%</text>
<text class="pa" aria-hidden="true" letter-spacing="4.01" transform="translate(71.11 355.00) scale(0.4220 0.9594)">(95%</text>
<text class="pa" aria-hidden="true" letter-spacing="4.01" transform="translate(71.62 355.00) scale(0.4220 0.9594)">(95%</text>
<text class="pa" aria-hidden="true" letter-spacing="4.01" transform="translate(72.13 355.00) scale(0.4220 0.9594)">(95%</text>
<text class="pa" aria-hidden="true" letter-spacing="4.01" transform="translate(72.64 355.00) scale(0.4220 0.9594)">(95%</text>
<text class="pa" letter-spacing="4.10" transform="translate(122.03 355.00) scale(0.4110 0.9402)">CI)</text>
<text class="pa" aria-hidden="true" letter-spacing="4.10" transform="translate(122.54 355.00) scale(0.4110 0.9402)">CI)</text>
<text class="pa" aria-hidden="true" letter-spacing="4.10" transform="translate(123.05 355.00) scale(0.4110 0.9402)">CI)</text>
<text class="pa" aria-hidden="true" letter-spacing="4.10" transform="translate(123.56 355.00) scale(0.4110 0.9402)">CI)</text>
<text class="pa" aria-hidden="true" letter-spacing="4.10" transform="translate(124.07 355.00) scale(0.4110 0.9402)">CI)</text>
<text class="pa" letter-spacing="3.99" transform="translate(457.87 355.00) scale(0.4252 0.9594)">100.0%</text>
<text class="pa" aria-hidden="true" letter-spacing="3.99" transform="translate(458.38 355.00) scale(0.4252 0.9594)">100.0%</text>
<text class="pa" aria-hidden="true" letter-spacing="3.99" transform="translate(458.89 355.00) scale(0.4252 0.9594)">100.0%</text>
<text class="pa" aria-hidden="true" letter-spacing="3.99" transform="translate(459.40 355.00) scale(0.4252 0.9594)">100.0%</text>
<text class="pa" aria-hidden="true" letter-spacing="3.99" transform="translate(459.91 355.00) scale(0.4252 0.9594)">100.0%</text>
<text class="pa" letter-spacing="4.02" transform="translate(561.68 355.00) scale(0.4208 0.9594)">5.61</text>
<text class="pa" aria-hidden="true" letter-spacing="4.02" transform="translate(562.19 355.00) scale(0.4208 0.9594)">5.61</text>
<text class="pa" aria-hidden="true" letter-spacing="4.02" transform="translate(562.70 355.00) scale(0.4208 0.9594)">5.61</text>
<text class="pa" aria-hidden="true" letter-spacing="4.02" transform="translate(563.21 355.00) scale(0.4208 0.9594)">5.61</text>
<text class="pa" aria-hidden="true" letter-spacing="4.02" transform="translate(563.72 355.00) scale(0.4208 0.9594)">5.61</text>
<text class="pa" letter-spacing="4.12" transform="translate(609.28 355.00) scale(0.4088 0.9594)">[2.24,</text>
<text class="pa" aria-hidden="true" letter-spacing="4.12" transform="translate(609.79 355.00) scale(0.4088 0.9594)">[2.24,</text>
<text class="pa" aria-hidden="true" letter-spacing="4.12" transform="translate(610.30 355.00) scale(0.4088 0.9594)">[2.24,</text>
<text class="pa" aria-hidden="true" letter-spacing="4.12" transform="translate(610.81 355.00) scale(0.4088 0.9594)">[2.24,</text>
<text class="pa" aria-hidden="true" letter-spacing="4.12" transform="translate(611.32 355.00) scale(0.4088 0.9594)">[2.24,</text>
<text class="pa" letter-spacing="4.03" transform="translate(668.51 355.00) scale(0.4200 0.9594)">14.04]</text>
<text class="pa" aria-hidden="true" letter-spacing="4.03" transform="translate(669.02 355.00) scale(0.4200 0.9594)">14.04]</text>
<text class="pa" aria-hidden="true" letter-spacing="4.03" transform="translate(669.53 355.00) scale(0.4200 0.9594)">14.04]</text>
<text class="pa" aria-hidden="true" letter-spacing="4.03" transform="translate(670.04 355.00) scale(0.4200 0.9594)">14.04]</text>
<text class="pa" aria-hidden="true" letter-spacing="4.03" transform="translate(670.55 355.00) scale(0.4200 0.9594)">14.04]</text>
<text class="pa" letter-spacing="4.16" transform="translate(15.52 453.00) scale(0.4051 0.9402)">Test</text>
<text class="pa" aria-hidden="true" letter-spacing="4.16" transform="translate(15.96 453.00) scale(0.4051 0.9402)">Test</text>
<text class="pa" aria-hidden="true" letter-spacing="4.16" transform="translate(16.40 453.00) scale(0.4051 0.9402)">Test</text>
<text class="pa" aria-hidden="true" letter-spacing="4.16" transform="translate(16.84 453.00) scale(0.4051 0.9402)">Test</text>
<text class="pa" letter-spacing="4.17" transform="translate(60.44 453.00) scale(0.4033 0.9402)">for</text>
<text class="pa" aria-hidden="true" letter-spacing="4.17" transform="translate(60.88 453.00) scale(0.4033 0.9402)">for</text>
<text class="pa" aria-hidden="true" letter-spacing="4.17" transform="translate(61.32 453.00) scale(0.4033 0.9402)">for</text>
<text class="pa" aria-hidden="true" letter-spacing="4.17" transform="translate(61.76 453.00) scale(0.4033 0.9402)">for</text>
<text class="pa" letter-spacing="4.41" transform="translate(91.37 453.00) scale(0.3756 0.9402)">overall</text>
<text class="pa" aria-hidden="true" letter-spacing="4.41" transform="translate(91.81 453.00) scale(0.3756 0.9402)">overall</text>
<text class="pa" aria-hidden="true" letter-spacing="4.41" transform="translate(92.25 453.00) scale(0.3756 0.9402)">overall</text>
<text class="pa" aria-hidden="true" letter-spacing="4.41" transform="translate(92.69 453.00) scale(0.3756 0.9402)">overall</text>
<text class="pa" letter-spacing="4.39" transform="translate(156.26 453.00) scale(0.3785 0.9402)">effect:</text>
<text class="pa" aria-hidden="true" letter-spacing="4.39" transform="translate(156.70 453.00) scale(0.3785 0.9402)">effect:</text>
<text class="pa" aria-hidden="true" letter-spacing="4.39" transform="translate(157.14 453.00) scale(0.3785 0.9402)">effect:</text>
<text class="pa" aria-hidden="true" letter-spacing="4.39" transform="translate(157.58 453.00) scale(0.3785 0.9402)">effect:</text>
<text class="pa" transform="translate(219.71 453.00) scale(0.3844 0.9402)">Z</text>
<text class="pa" aria-hidden="true" transform="translate(220.15 453.00) scale(0.3844 0.9402)">Z</text>
<text class="pa" aria-hidden="true" transform="translate(220.59 453.00) scale(0.3844 0.9402)">Z</text>
<text class="pa" aria-hidden="true" transform="translate(221.03 453.00) scale(0.3844 0.9402)">Z</text>
<text class="pa" transform="translate(237.42 453.00) scale(0.5062 0.9402)">=</text>
<text class="pa" aria-hidden="true" transform="translate(237.86 453.00) scale(0.5062 0.9402)">=</text>
<text class="pa" aria-hidden="true" transform="translate(238.30 453.00) scale(0.5062 0.9402)">=</text>
<text class="pa" aria-hidden="true" transform="translate(238.74 453.00) scale(0.5062 0.9402)">=</text>
<text class="pa" letter-spacing="3.96" transform="translate(257.76 453.00) scale(0.4308 0.9594)">3.68</text>
<text class="pa" aria-hidden="true" letter-spacing="3.96" transform="translate(258.20 453.00) scale(0.4308 0.9594)">3.68</text>
<text class="pa" aria-hidden="true" letter-spacing="3.96" transform="translate(258.64 453.00) scale(0.4308 0.9594)">3.68</text>
<text class="pa" aria-hidden="true" letter-spacing="3.96" transform="translate(259.08 453.00) scale(0.4308 0.9594)">3.68</text>
<text class="pa" letter-spacing="4.66" transform="translate(304.46 453.00) scale(0.3513 0.9402)">(P</text>
<text class="pa" aria-hidden="true" letter-spacing="4.66" transform="translate(304.90 453.00) scale(0.3513 0.9402)">(P</text>
<text class="pa" aria-hidden="true" letter-spacing="4.66" transform="translate(305.34 453.00) scale(0.3513 0.9402)">(P</text>
<text class="pa" aria-hidden="true" letter-spacing="4.66" transform="translate(305.78 453.00) scale(0.3513 0.9402)">(P</text>
<text class="pa" transform="translate(327.45 453.00) scale(0.4825 0.9402)">=</text>
<text class="pa" aria-hidden="true" transform="translate(327.89 453.00) scale(0.4825 0.9402)">=</text>
<text class="pa" aria-hidden="true" transform="translate(328.33 453.00) scale(0.4825 0.9402)">=</text>
<text class="pa" aria-hidden="true" transform="translate(328.77 453.00) scale(0.4825 0.9402)">=</text>
<text class="pa" letter-spacing="3.91" transform="translate(346.50 453.00) scale(0.4387 0.9594)">0.0002)</text>
<text class="pa" aria-hidden="true" letter-spacing="3.91" transform="translate(346.94 453.00) scale(0.4387 0.9594)">0.0002)</text>
<text class="pa" aria-hidden="true" letter-spacing="3.91" transform="translate(347.38 453.00) scale(0.4387 0.9594)">0.0002)</text>
<text class="pa" aria-hidden="true" letter-spacing="3.91" transform="translate(347.82 453.00) scale(0.4387 0.9594)">0.0002)</text>
<text class="pa" letter-spacing="3.90" transform="translate(742.49 430.00) scale(0.4406 0.9594)">0.01</text>
<text class="pa" aria-hidden="true" letter-spacing="3.90" transform="translate(742.93 430.00) scale(0.4406 0.9594)">0.01</text>
<text class="pa" aria-hidden="true" letter-spacing="3.90" transform="translate(743.37 430.00) scale(0.4406 0.9594)">0.01</text>
<text class="pa" aria-hidden="true" letter-spacing="3.90" transform="translate(743.81 430.00) scale(0.4406 0.9594)">0.01</text>
<text class="pa" letter-spacing="3.93" transform="translate(837.90 430.00) scale(0.4352 0.9594)">0.1</text>
<text class="pa" aria-hidden="true" letter-spacing="3.93" transform="translate(838.34 430.00) scale(0.4352 0.9594)">0.1</text>
<text class="pa" aria-hidden="true" letter-spacing="3.93" transform="translate(838.78 430.00) scale(0.4352 0.9594)">0.1</text>
<text class="pa" aria-hidden="true" letter-spacing="3.93" transform="translate(839.22 430.00) scale(0.4352 0.9594)">0.1</text>
<text class="pa" transform="translate(957.85 430.00) scale(0.3848 0.9594)">1</text>
<text class="pa" aria-hidden="true" transform="translate(958.29 430.00) scale(0.3848 0.9594)">1</text>
<text class="pa" aria-hidden="true" transform="translate(958.73 430.00) scale(0.3848 0.9594)">1</text>
<text class="pa" aria-hidden="true" transform="translate(959.17 430.00) scale(0.3848 0.9594)">1</text>
<text class="pa" letter-spacing="3.78" transform="translate(1062.11 430.00) scale(0.4588 0.9594)">10</text>
<text class="pa" aria-hidden="true" letter-spacing="3.78" transform="translate(1062.55 430.00) scale(0.4588 0.9594)">10</text>
<text class="pa" aria-hidden="true" letter-spacing="3.78" transform="translate(1062.99 430.00) scale(0.4588 0.9594)">10</text>
<text class="pa" aria-hidden="true" letter-spacing="3.78" transform="translate(1063.43 430.00) scale(0.4588 0.9594)">10</text>
<text class="pa" letter-spacing="3.83" transform="translate(1148.12 430.00) scale(0.4508 0.9594)">100</text>
<text class="pa" aria-hidden="true" letter-spacing="3.83" transform="translate(1148.56 430.00) scale(0.4508 0.9594)">100</text>
<text class="pa" aria-hidden="true" letter-spacing="3.83" transform="translate(1149.00 430.00) scale(0.4508 0.9594)">100</text>
<text class="pa" aria-hidden="true" letter-spacing="3.83" transform="translate(1149.44 430.00) scale(0.4508 0.9594)">100</text>
<text class="pb" letter-spacing="3.33" transform="translate(576.47 526.00) scale(0.4161 0.6209)">Risk</text>
<text class="pb" aria-hidden="true" letter-spacing="3.33" transform="translate(576.96 526.00) scale(0.4161 0.6209)">Risk</text>
<text class="pb" aria-hidden="true" letter-spacing="3.33" transform="translate(577.45 526.00) scale(0.4161 0.6209)">Risk</text>
<text class="pb" aria-hidden="true" letter-spacing="3.33" transform="translate(577.95 526.00) scale(0.4161 0.6209)">Risk</text>
<text class="pb" letter-spacing="3.35" transform="translate(625.12 526.00) scale(0.4128 0.6209)">Ratio</text>
<text class="pb" aria-hidden="true" letter-spacing="3.35" transform="translate(625.62 526.00) scale(0.4128 0.6209)">Ratio</text>
<text class="pb" aria-hidden="true" letter-spacing="3.35" transform="translate(626.11 526.00) scale(0.4128 0.6209)">Ratio</text>
<text class="pb" aria-hidden="true" letter-spacing="3.35" transform="translate(626.60 526.00) scale(0.4128 0.6209)">Ratio</text>
<text class="pb" letter-spacing="3.33" transform="translate(913.17 526.00) scale(0.4161 0.6209)">Risk</text>
<text class="pb" aria-hidden="true" letter-spacing="3.33" transform="translate(913.66 526.00) scale(0.4161 0.6209)">Risk</text>
<text class="pb" aria-hidden="true" letter-spacing="3.33" transform="translate(914.15 526.00) scale(0.4161 0.6209)">Risk</text>
<text class="pb" aria-hidden="true" letter-spacing="3.33" transform="translate(914.65 526.00) scale(0.4161 0.6209)">Risk</text>
<text class="pb" letter-spacing="3.35" transform="translate(962.12 526.00) scale(0.4128 0.6209)">Ratio</text>
<text class="pb" aria-hidden="true" letter-spacing="3.35" transform="translate(962.62 526.00) scale(0.4128 0.6209)">Ratio</text>
<text class="pb" aria-hidden="true" letter-spacing="3.35" transform="translate(963.11 526.00) scale(0.4128 0.6209)">Ratio</text>
<text class="pb" aria-hidden="true" letter-spacing="3.35" transform="translate(963.60 526.00) scale(0.4128 0.6209)">Ratio</text>
<text class="pb" letter-spacing="3.29" transform="translate(14.75 557.00) scale(0.4223 0.6209)">Study</text>
<text class="pb" aria-hidden="true" letter-spacing="3.29" transform="translate(15.24 557.00) scale(0.4223 0.6209)">Study</text>
<text class="pb" aria-hidden="true" letter-spacing="3.29" transform="translate(15.73 557.00) scale(0.4223 0.6209)">Study</text>
<text class="pb" aria-hidden="true" letter-spacing="3.29" transform="translate(16.23 557.00) scale(0.4223 0.6209)">Study</text>
<text class="pb" letter-spacing="3.41" transform="translate(75.85 557.00) scale(0.4028 0.6209)">or</text>
<text class="pb" aria-hidden="true" letter-spacing="3.41" transform="translate(76.35 557.00) scale(0.4028 0.6209)">or</text>
<text class="pb" aria-hidden="true" letter-spacing="3.41" transform="translate(76.84 557.00) scale(0.4028 0.6209)">or</text>
<text class="pb" aria-hidden="true" letter-spacing="3.41" transform="translate(77.33 557.00) scale(0.4028 0.6209)">or</text>
<text class="pb" letter-spacing="3.26" transform="translate(101.99 557.00) scale(0.4279 0.6209)">Subgroup</text>
<text class="pb" aria-hidden="true" letter-spacing="3.26" transform="translate(102.48 557.00) scale(0.4279 0.6209)">Subgroup</text>
<text class="pb" aria-hidden="true" letter-spacing="3.26" transform="translate(102.98 557.00) scale(0.4279 0.6209)">Subgroup</text>
<text class="pb" aria-hidden="true" letter-spacing="3.26" transform="translate(103.47 557.00) scale(0.4279 0.6209)">Subgroup</text>
<text class="pb" letter-spacing="3.33" transform="translate(222.09 557.00) scale(0.4158 0.6209)">log[Risk</text>
<text class="pb" aria-hidden="true" letter-spacing="3.33" transform="translate(222.58 557.00) scale(0.4158 0.6209)">log[Risk</text>
<text class="pb" aria-hidden="true" letter-spacing="3.33" transform="translate(223.07 557.00) scale(0.4158 0.6209)">log[Risk</text>
<text class="pb" aria-hidden="true" letter-spacing="3.33" transform="translate(223.57 557.00) scale(0.4158 0.6209)">log[Risk</text>
<text class="pb" letter-spacing="3.37" transform="translate(307.54 557.00) scale(0.4093 0.6209)">Ratio]</text>
<text class="pb" aria-hidden="true" letter-spacing="3.37" transform="translate(308.03 557.00) scale(0.4093 0.6209)">Ratio]</text>
<text class="pb" aria-hidden="true" letter-spacing="3.37" transform="translate(308.53 557.00) scale(0.4093 0.6209)">Ratio]</text>
<text class="pb" aria-hidden="true" letter-spacing="3.37" transform="translate(309.02 557.00) scale(0.4093 0.6209)">Ratio]</text>
<text class="pb" letter-spacing="3.58" transform="translate(419.37 557.00) scale(0.3777 0.6209)">SE</text>
<text class="pb" aria-hidden="true" letter-spacing="3.58" transform="translate(419.87 557.00) scale(0.3777 0.6209)">SE</text>
<text class="pb" aria-hidden="true" letter-spacing="3.58" transform="translate(420.36 557.00) scale(0.3777 0.6209)">SE</text>
<text class="pb" aria-hidden="true" letter-spacing="3.58" transform="translate(420.85 557.00) scale(0.3777 0.6209)">SE</text>
<text class="pb" letter-spacing="3.24" transform="translate(458.26 557.00) scale(0.4319 0.6209)">Weight</text>
<text class="pb" aria-hidden="true" letter-spacing="3.24" transform="translate(458.75 557.00) scale(0.4319 0.6209)">Weight</text>
<text class="pb" aria-hidden="true" letter-spacing="3.24" transform="translate(459.25 557.00) scale(0.4319 0.6209)">Weight</text>
<text class="pb" aria-hidden="true" letter-spacing="3.24" transform="translate(459.74 557.00) scale(0.4319 0.6209)">Weight</text>
<text class="pb" letter-spacing="3.17" transform="translate(543.51 557.00) scale(0.4442 0.6209)">IV,</text>
<text class="pb" aria-hidden="true" letter-spacing="3.17" transform="translate(544.00 557.00) scale(0.4442 0.6209)">IV,</text>
<text class="pb" aria-hidden="true" letter-spacing="3.17" transform="translate(544.50 557.00) scale(0.4442 0.6209)">IV,</text>
<text class="pb" aria-hidden="true" letter-spacing="3.17" transform="translate(544.99 557.00) scale(0.4442 0.6209)">IV,</text>
<text class="pb" letter-spacing="3.24" transform="translate(573.14 557.00) scale(0.4319 0.6209)">Random,</text>
<text class="pb" aria-hidden="true" letter-spacing="3.24" transform="translate(573.63 557.00) scale(0.4319 0.6209)">Random,</text>
<text class="pb" aria-hidden="true" letter-spacing="3.24" transform="translate(574.12 557.00) scale(0.4319 0.6209)">Random,</text>
<text class="pb" aria-hidden="true" letter-spacing="3.24" transform="translate(574.62 557.00) scale(0.4319 0.6209)">Random,</text>
<text class="pb" letter-spacing="3.32" transform="translate(662.67 557.00) scale(0.4181 0.6304)">95%</text>
<text class="pb" aria-hidden="true" letter-spacing="3.32" transform="translate(663.16 557.00) scale(0.4181 0.6304)">95%</text>
<text class="pb" aria-hidden="true" letter-spacing="3.32" transform="translate(663.65 557.00) scale(0.4181 0.6304)">95%</text>
<text class="pb" aria-hidden="true" letter-spacing="3.32" transform="translate(664.15 557.00) scale(0.4181 0.6304)">95%</text>
<text class="pb" letter-spacing="3.26" transform="translate(706.57 557.00) scale(0.4273 0.6209)">CI</text>
<text class="pb" aria-hidden="true" letter-spacing="3.26" transform="translate(707.07 557.00) scale(0.4273 0.6209)">CI</text>
<text class="pb" aria-hidden="true" letter-spacing="3.26" transform="translate(707.56 557.00) scale(0.4273 0.6209)">CI</text>
<text class="pb" aria-hidden="true" letter-spacing="3.26" transform="translate(708.05 557.00) scale(0.4273 0.6209)">CI</text>
<text class="pb" letter-spacing="3.17" transform="translate(869.71 557.00) scale(0.4442 0.6209)">IV,</text>
<text class="pb" aria-hidden="true" letter-spacing="3.17" transform="translate(870.20 557.00) scale(0.4442 0.6209)">IV,</text>
<text class="pb" aria-hidden="true" letter-spacing="3.17" transform="translate(870.70 557.00) scale(0.4442 0.6209)">IV,</text>
<text class="pb" aria-hidden="true" letter-spacing="3.17" transform="translate(871.19 557.00) scale(0.4442 0.6209)">IV,</text>
<text class="pb" letter-spacing="3.24" transform="translate(899.34 557.00) scale(0.4319 0.6209)">Random,</text>
<text class="pb" aria-hidden="true" letter-spacing="3.24" transform="translate(899.83 557.00) scale(0.4319 0.6209)">Random,</text>
<text class="pb" aria-hidden="true" letter-spacing="3.24" transform="translate(900.32 557.00) scale(0.4319 0.6209)">Random,</text>
<text class="pb" aria-hidden="true" letter-spacing="3.24" transform="translate(900.82 557.00) scale(0.4319 0.6209)">Random,</text>
<text class="pb" letter-spacing="3.32" transform="translate(988.87 557.00) scale(0.4181 0.6304)">95%</text>
<text class="pb" aria-hidden="true" letter-spacing="3.32" transform="translate(989.36 557.00) scale(0.4181 0.6304)">95%</text>
<text class="pb" aria-hidden="true" letter-spacing="3.32" transform="translate(989.85 557.00) scale(0.4181 0.6304)">95%</text>
<text class="pb" aria-hidden="true" letter-spacing="3.32" transform="translate(990.35 557.00) scale(0.4181 0.6304)">95%</text>
<text class="pb" letter-spacing="3.26" transform="translate(1032.77 557.00) scale(0.4273 0.6209)">CI</text>
<text class="pb" aria-hidden="true" letter-spacing="3.26" transform="translate(1033.27 557.00) scale(0.4273 0.6209)">CI</text>
<text class="pb" aria-hidden="true" letter-spacing="3.26" transform="translate(1033.76 557.00) scale(0.4273 0.6209)">CI</text>
<text class="pb" aria-hidden="true" letter-spacing="3.26" transform="translate(1034.25 557.00) scale(0.4273 0.6209)">CI</text>
<text class="pb" letter-spacing="2.81" transform="translate(15.16 592.00) scale(0.4216 0.6209)">Ko</text>
<text class="pb" aria-hidden="true" letter-spacing="2.81" transform="translate(15.50 592.00) scale(0.4216 0.6209)">Ko</text>
<text class="pb" aria-hidden="true" letter-spacing="2.81" transform="translate(15.84 592.00) scale(0.4216 0.6209)">Ko</text>
<text class="pb" letter-spacing="2.90" transform="translate(46.19 592.00) scale(0.4005 0.6209)">et</text>
<text class="pb" aria-hidden="true" letter-spacing="2.90" transform="translate(46.53 592.00) scale(0.4005 0.6209)">et</text>
<text class="pb" aria-hidden="true" letter-spacing="2.90" transform="translate(46.87 592.00) scale(0.4005 0.6209)">et</text>
<text class="pb" letter-spacing="2.96" transform="translate(69.62 592.00) scale(0.3856 0.6209)">al.</text>
<text class="pb" aria-hidden="true" letter-spacing="2.96" transform="translate(69.96 592.00) scale(0.3856 0.6209)">al.</text>
<text class="pb" aria-hidden="true" letter-spacing="2.96" transform="translate(70.30 592.00) scale(0.3856 0.6209)">al.</text>
<text class="pb" letter-spacing="2.67" transform="translate(95.66 592.00) scale(0.4623 0.6304)">1995</text>
<text class="pb" aria-hidden="true" letter-spacing="2.67" transform="translate(96.00 592.00) scale(0.4623 0.6304)">1995</text>
<text class="pb" aria-hidden="true" letter-spacing="2.67" transform="translate(96.34 592.00) scale(0.4623 0.6304)">1995</text>
<text class="pb" letter-spacing="2.84" transform="translate(15.17 622.00) scale(0.4154 0.6209)">Lee</text>
<text class="pb" aria-hidden="true" letter-spacing="2.84" transform="translate(15.51 622.00) scale(0.4154 0.6209)">Lee</text>
<text class="pb" aria-hidden="true" letter-spacing="2.84" transform="translate(15.85 622.00) scale(0.4154 0.6209)">Lee</text>
<text class="pb" letter-spacing="2.90" transform="translate(53.40 622.00) scale(0.4005 0.6209)">et</text>
<text class="pb" aria-hidden="true" letter-spacing="2.90" transform="translate(53.74 622.00) scale(0.4005 0.6209)">et</text>
<text class="pb" aria-hidden="true" letter-spacing="2.90" transform="translate(54.08 622.00) scale(0.4005 0.6209)">et</text>
<text class="pb" letter-spacing="2.96" transform="translate(76.62 622.00) scale(0.3856 0.6209)">al.</text>
<text class="pb" aria-hidden="true" letter-spacing="2.96" transform="translate(76.96 622.00) scale(0.3856 0.6209)">al.</text>
<text class="pb" aria-hidden="true" letter-spacing="2.96" transform="translate(77.30 622.00) scale(0.3856 0.6209)">al.</text>
<text class="pb" letter-spacing="2.67" transform="translate(102.91 622.00) scale(0.4626 0.6304)">2012</text>
<text class="pb" aria-hidden="true" letter-spacing="2.67" transform="translate(103.25 622.00) scale(0.4626 0.6304)">2012</text>
<text class="pb" aria-hidden="true" letter-spacing="2.67" transform="translate(103.59 622.00) scale(0.4626 0.6304)">2012</text>
<text class="pb" letter-spacing="2.81" transform="translate(15.08 653.00) scale(0.4229 0.6209)">Thomas</text>
<text class="pb" aria-hidden="true" letter-spacing="2.81" transform="translate(15.42 653.00) scale(0.4229 0.6209)">Thomas</text>
<text class="pb" aria-hidden="true" letter-spacing="2.81" transform="translate(15.76 653.00) scale(0.4229 0.6209)">Thomas</text>
<text class="pb" letter-spacing="2.90" transform="translate(93.74 653.00) scale(0.4005 0.6209)">et</text>
<text class="pb" aria-hidden="true" letter-spacing="2.90" transform="translate(94.08 653.00) scale(0.4005 0.6209)">et</text>
<text class="pb" aria-hidden="true" letter-spacing="2.90" transform="translate(94.42 653.00) scale(0.4005 0.6209)">et</text>
<text class="pb" letter-spacing="2.96" transform="translate(117.59 653.00) scale(0.3856 0.6209)">al.</text>
<text class="pb" aria-hidden="true" letter-spacing="2.96" transform="translate(117.93 653.00) scale(0.3856 0.6209)">al.</text>
<text class="pb" aria-hidden="true" letter-spacing="2.96" transform="translate(118.27 653.00) scale(0.3856 0.6209)">al.</text>
<text class="pb" letter-spacing="2.67" transform="translate(144.51 653.00) scale(0.4626 0.6304)">2007</text>
<text class="pb" aria-hidden="true" letter-spacing="2.67" transform="translate(144.85 653.00) scale(0.4626 0.6304)">2007</text>
<text class="pb" aria-hidden="true" letter-spacing="2.67" transform="translate(145.19 653.00) scale(0.4626 0.6304)">2007</text>
<text class="pb" letter-spacing="2.78" transform="translate(15.26 683.00) scale(0.4293 0.6209)">Wu</text>
<text class="pb" aria-hidden="true" letter-spacing="2.78" transform="translate(15.60 683.00) scale(0.4293 0.6209)">Wu</text>
<text class="pb" aria-hidden="true" letter-spacing="2.78" transform="translate(15.94 683.00) scale(0.4293 0.6209)">Wu</text>
<text class="pb" letter-spacing="2.90" transform="translate(49.82 683.00) scale(0.4005 0.6209)">et</text>
<text class="pb" aria-hidden="true" letter-spacing="2.90" transform="translate(50.16 683.00) scale(0.4005 0.6209)">et</text>
<text class="pb" aria-hidden="true" letter-spacing="2.90" transform="translate(50.50 683.00) scale(0.4005 0.6209)">et</text>
<text class="pb" letter-spacing="2.96" transform="translate(73.28 683.00) scale(0.3856 0.6209)">al.</text>
<text class="pb" aria-hidden="true" letter-spacing="2.96" transform="translate(73.62 683.00) scale(0.3856 0.6209)">al.</text>
<text class="pb" aria-hidden="true" letter-spacing="2.96" transform="translate(73.96 683.00) scale(0.3856 0.6209)">al.</text>
<text class="pb" letter-spacing="2.67" transform="translate(99.81 683.00) scale(0.4627 0.6304)">2016</text>
<text class="pb" aria-hidden="true" letter-spacing="2.67" transform="translate(100.15 683.00) scale(0.4627 0.6304)">2016</text>
<text class="pb" aria-hidden="true" letter-spacing="2.67" transform="translate(100.49 683.00) scale(0.4627 0.6304)">2016</text>
<text class="pb" letter-spacing="2.69" transform="translate(299.48 592.00) scale(0.4566 0.6304)">1.9315</text>
<text class="pb" aria-hidden="true" letter-spacing="2.69" transform="translate(299.82 592.00) scale(0.4566 0.6304)">1.9315</text>
<text class="pb" aria-hidden="true" letter-spacing="2.69" transform="translate(300.16 592.00) scale(0.4566 0.6304)">1.9315</text>
<text class="pb" letter-spacing="2.69" transform="translate(299.13 622.00) scale(0.4564 0.6304)">2.8154</text>
<text class="pb" aria-hidden="true" letter-spacing="2.69" transform="translate(299.47 622.00) scale(0.4564 0.6304)">2.8154</text>
<text class="pb" aria-hidden="true" letter-spacing="2.69" transform="translate(299.81 622.00) scale(0.4564 0.6304)">2.8154</text>
<text class="pb" letter-spacing="2.67" transform="translate(299.04 653.00) scale(0.4615 0.6304)">0.2546</text>
<text class="pb" aria-hidden="true" letter-spacing="2.67" transform="translate(299.38 653.00) scale(0.4615 0.6304)">0.2546</text>
<text class="pb" aria-hidden="true" letter-spacing="2.67" transform="translate(299.72 653.00) scale(0.4615 0.6304)">0.2546</text>
<text class="pb" letter-spacing="2.67" transform="translate(299.13 683.00) scale(0.4615 0.6304)">2.0857</text>
<text class="pb" aria-hidden="true" letter-spacing="2.67" transform="translate(299.47 683.00) scale(0.4615 0.6304)">2.0857</text>
<text class="pb" aria-hidden="true" letter-spacing="2.67" transform="translate(299.81 683.00) scale(0.4615 0.6304)">2.0857</text>
<text class="pb" letter-spacing="2.65" transform="translate(377.03 592.00) scale(0.4677 0.6304)">0.4082</text>
<text class="pb" aria-hidden="true" letter-spacing="2.65" transform="translate(377.37 592.00) scale(0.4677 0.6304)">0.4082</text>
<text class="pb" aria-hidden="true" letter-spacing="2.65" transform="translate(377.71 592.00) scale(0.4677 0.6304)">0.4082</text>
<text class="pb" letter-spacing="2.67" transform="translate(377.04 622.00) scale(0.4626 0.6304)">0.1644</text>
<text class="pb" aria-hidden="true" letter-spacing="2.67" transform="translate(377.38 622.00) scale(0.4626 0.6304)">0.1644</text>
<text class="pb" aria-hidden="true" letter-spacing="2.67" transform="translate(377.72 622.00) scale(0.4626 0.6304)">0.1644</text>
<text class="pb" letter-spacing="2.65" transform="translate(377.03 653.00) scale(0.4677 0.6304)">0.8372</text>
<text class="pb" aria-hidden="true" letter-spacing="2.65" transform="translate(377.37 653.00) scale(0.4677 0.6304)">0.8372</text>
<text class="pb" aria-hidden="true" letter-spacing="2.65" transform="translate(377.71 653.00) scale(0.4677 0.6304)">0.8372</text>
<text class="pb" letter-spacing="2.66" transform="translate(377.03 683.00) scale(0.4670 0.6304)">0.2329</text>
<text class="pb" aria-hidden="true" letter-spacing="2.66" transform="translate(377.37 683.00) scale(0.4670 0.6304)">0.2329</text>
<text class="pb" aria-hidden="true" letter-spacing="2.66" transform="translate(377.71 683.00) scale(0.4670 0.6304)">0.2329</text>
<text class="pb" letter-spacing="2.79" transform="translate(472.16 592.00) scale(0.4282 0.6304)">24.3%</text>
<text class="pb" aria-hidden="true" letter-spacing="2.79" transform="translate(472.50 592.00) scale(0.4282 0.6304)">24.3%</text>
<text class="pb" aria-hidden="true" letter-spacing="2.79" transform="translate(472.84 592.00) scale(0.4282 0.6304)">24.3%</text>
<text class="pb" letter-spacing="2.79" transform="translate(472.33 622.00) scale(0.4267 0.6304)">32.9%</text>
<text class="pb" aria-hidden="true" letter-spacing="2.79" transform="translate(472.67 622.00) scale(0.4267 0.6304)">32.9%</text>
<text class="pb" aria-hidden="true" letter-spacing="2.79" transform="translate(473.01 622.00) scale(0.4267 0.6304)">32.9%</text>
<text class="pb" letter-spacing="2.79" transform="translate(472.23 653.00) scale(0.4276 0.6304)">12.1%</text>
<text class="pb" aria-hidden="true" letter-spacing="2.79" transform="translate(472.57 653.00) scale(0.4276 0.6304)">12.1%</text>
<text class="pb" aria-hidden="true" letter-spacing="2.79" transform="translate(472.91 653.00) scale(0.4276 0.6304)">12.1%</text>
<text class="pb" letter-spacing="2.79" transform="translate(472.33 683.00) scale(0.4267 0.6304)">30.7%</text>
<text class="pb" aria-hidden="true" letter-spacing="2.79" transform="translate(472.67 683.00) scale(0.4267 0.6304)">30.7%</text>
<text class="pb" aria-hidden="true" letter-spacing="2.79" transform="translate(473.01 683.00) scale(0.4267 0.6304)">30.7%</text>
<text class="pb" letter-spacing="2.70" transform="translate(562.54 592.00) scale(0.4545 0.6304)">6.90</text>
<text class="pb" aria-hidden="true" letter-spacing="2.70" transform="translate(562.88 592.00) scale(0.4545 0.6304)">6.90</text>
<text class="pb" aria-hidden="true" letter-spacing="2.70" transform="translate(563.22 592.00) scale(0.4545 0.6304)">6.90</text>
<text class="pb" letter-spacing="2.73" transform="translate(609.57 592.00) scale(0.4452 0.6304)">[3.10,</text>
<text class="pb" aria-hidden="true" letter-spacing="2.73" transform="translate(609.91 592.00) scale(0.4452 0.6304)">[3.10,</text>
<text class="pb" aria-hidden="true" letter-spacing="2.73" transform="translate(610.25 592.00) scale(0.4452 0.6304)">[3.10,</text>
<text class="pb" letter-spacing="2.70" transform="translate(668.61 592.00) scale(0.4526 0.6304)">15.36]</text>
<text class="pb" aria-hidden="true" letter-spacing="2.70" transform="translate(668.95 592.00) scale(0.4526 0.6304)">15.36]</text>
<text class="pb" aria-hidden="true" letter-spacing="2.70" transform="translate(669.29 592.00) scale(0.4526 0.6304)">15.36]</text>
<text class="pb" letter-spacing="2.69" transform="translate(540.58 622.00) scale(0.4561 0.6304)">16.70</text>
<text class="pb" aria-hidden="true" letter-spacing="2.69" transform="translate(540.92 622.00) scale(0.4561 0.6304)">16.70</text>
<text class="pb" aria-hidden="true" letter-spacing="2.69" transform="translate(541.26 622.00) scale(0.4561 0.6304)">16.70</text>
<text class="pb" letter-spacing="2.72" transform="translate(598.30 622.00) scale(0.4487 0.6304)">[12.10,</text>
<text class="pb" aria-hidden="true" letter-spacing="2.72" transform="translate(598.64 622.00) scale(0.4487 0.6304)">[12.10,</text>
<text class="pb" aria-hidden="true" letter-spacing="2.72" transform="translate(598.98 622.00) scale(0.4487 0.6304)">[12.10,</text>
<text class="pb" letter-spacing="2.70" transform="translate(668.54 622.00) scale(0.4531 0.6304)">23.05]</text>
<text class="pb" aria-hidden="true" letter-spacing="2.70" transform="translate(668.88 622.00) scale(0.4531 0.6304)">23.05]</text>
<text class="pb" aria-hidden="true" letter-spacing="2.70" transform="translate(669.22 622.00) scale(0.4531 0.6304)">23.05]</text>
<text class="pb" letter-spacing="2.70" transform="translate(574.48 653.00) scale(0.4538 0.6304)">1.29</text>
<text class="pb" aria-hidden="true" letter-spacing="2.70" transform="translate(574.82 653.00) scale(0.4538 0.6304)">1.29</text>
<text class="pb" aria-hidden="true" letter-spacing="2.70" transform="translate(575.16 653.00) scale(0.4538 0.6304)">1.29</text>
<text class="pb" letter-spacing="2.73" transform="translate(621.13 653.00) scale(0.4452 0.6304)">[0.25,</text>
<text class="pb" aria-hidden="true" letter-spacing="2.73" transform="translate(621.47 653.00) scale(0.4452 0.6304)">[0.25,</text>
<text class="pb" aria-hidden="true" letter-spacing="2.73" transform="translate(621.81 653.00) scale(0.4452 0.6304)">[0.25,</text>
<text class="pb" letter-spacing="2.71" transform="translate(680.19 653.00) scale(0.4502 0.6304)">6.66]</text>
<text class="pb" aria-hidden="true" letter-spacing="2.71" transform="translate(680.53 653.00) scale(0.4502 0.6304)">6.66]</text>
<text class="pb" aria-hidden="true" letter-spacing="2.71" transform="translate(680.87 653.00) scale(0.4502 0.6304)">6.66]</text>
<text class="pb" letter-spacing="2.69" transform="translate(562.63 683.00) scale(0.4551 0.6304)">8.05</text>
<text class="pb" aria-hidden="true" letter-spacing="2.69" transform="translate(562.97 683.00) scale(0.4551 0.6304)">8.05</text>
<text class="pb" aria-hidden="true" letter-spacing="2.69" transform="translate(563.31 683.00) scale(0.4551 0.6304)">8.05</text>
<text class="pb" letter-spacing="2.73" transform="translate(609.78 683.00) scale(0.4452 0.6304)">[5.10,</text>
<text class="pb" aria-hidden="true" letter-spacing="2.73" transform="translate(610.12 683.00) scale(0.4452 0.6304)">[5.10,</text>
<text class="pb" aria-hidden="true" letter-spacing="2.73" transform="translate(610.46 683.00) scale(0.4452 0.6304)">[5.10,</text>
<text class="pb" letter-spacing="2.70" transform="translate(668.61 683.00) scale(0.4526 0.6304)">12.71]</text>
<text class="pb" aria-hidden="true" letter-spacing="2.70" transform="translate(668.95 683.00) scale(0.4526 0.6304)">12.71]</text>
<text class="pb" aria-hidden="true" letter-spacing="2.70" transform="translate(669.29 683.00) scale(0.4526 0.6304)">12.71]</text>
<text class="pb" letter-spacing="3.11" transform="translate(15.09 742.00) scale(0.4563 0.6209)">Total</text>
<text class="pb" aria-hidden="true" letter-spacing="3.11" transform="translate(15.58 742.00) scale(0.4563 0.6209)">Total</text>
<text class="pb" aria-hidden="true" letter-spacing="3.11" transform="translate(16.08 742.00) scale(0.4563 0.6209)">Total</text>
<text class="pb" aria-hidden="true" letter-spacing="3.11" transform="translate(16.57 742.00) scale(0.4563 0.6209)">Total</text>
<text class="pb" letter-spacing="3.21" transform="translate(70.64 742.00) scale(0.4363 0.6304)">(95%</text>
<text class="pb" aria-hidden="true" letter-spacing="3.21" transform="translate(71.13 742.00) scale(0.4363 0.6304)">(95%</text>
<text class="pb" aria-hidden="true" letter-spacing="3.21" transform="translate(71.63 742.00) scale(0.4363 0.6304)">(95%</text>
<text class="pb" aria-hidden="true" letter-spacing="3.21" transform="translate(72.12 742.00) scale(0.4363 0.6304)">(95%</text>
<text class="pb" letter-spacing="3.24" transform="translate(122.07 742.00) scale(0.4309 0.6209)">CI)</text>
<text class="pb" aria-hidden="true" letter-spacing="3.24" transform="translate(122.56 742.00) scale(0.4309 0.6209)">CI)</text>
<text class="pb" aria-hidden="true" letter-spacing="3.24" transform="translate(123.06 742.00) scale(0.4309 0.6209)">CI)</text>
<text class="pb" aria-hidden="true" letter-spacing="3.24" transform="translate(123.55 742.00) scale(0.4309 0.6209)">CI)</text>
<text class="pb" letter-spacing="3.23" transform="translate(457.92 742.00) scale(0.4328 0.6304)">100.0%</text>
<text class="pb" aria-hidden="true" letter-spacing="3.23" transform="translate(458.41 742.00) scale(0.4328 0.6304)">100.0%</text>
<text class="pb" aria-hidden="true" letter-spacing="3.23" transform="translate(458.91 742.00) scale(0.4328 0.6304)">100.0%</text>
<text class="pb" aria-hidden="true" letter-spacing="3.23" transform="translate(459.40 742.00) scale(0.4328 0.6304)">100.0%</text>
<text class="pb" letter-spacing="3.21" transform="translate(561.56 742.00) scale(0.4369 0.6304)">7.89</text>
<text class="pb" aria-hidden="true" letter-spacing="3.21" transform="translate(562.06 742.00) scale(0.4369 0.6304)">7.89</text>
<text class="pb" aria-hidden="true" letter-spacing="3.21" transform="translate(562.55 742.00) scale(0.4369 0.6304)">7.89</text>
<text class="pb" aria-hidden="true" letter-spacing="3.21" transform="translate(563.04 742.00) scale(0.4369 0.6304)">7.89</text>
<text class="pb" letter-spacing="3.26" transform="translate(609.10 742.00) scale(0.4279 0.6304)">[3.90,</text>
<text class="pb" aria-hidden="true" letter-spacing="3.26" transform="translate(609.59 742.00) scale(0.4279 0.6304)">[3.90,</text>
<text class="pb" aria-hidden="true" letter-spacing="3.26" transform="translate(610.09 742.00) scale(0.4279 0.6304)">[3.90,</text>
<text class="pb" aria-hidden="true" letter-spacing="3.26" transform="translate(610.58 742.00) scale(0.4279 0.6304)">[3.90,</text>
<text class="pb" letter-spacing="3.21" transform="translate(668.54 742.00) scale(0.4371 0.6304)">15.98]</text>
<text class="pb" aria-hidden="true" letter-spacing="3.21" transform="translate(669.03 742.00) scale(0.4371 0.6304)">15.98]</text>
<text class="pb" aria-hidden="true" letter-spacing="3.21" transform="translate(669.52 742.00) scale(0.4371 0.6304)">15.98]</text>
<text class="pb" aria-hidden="true" letter-spacing="3.21" transform="translate(670.02 742.00) scale(0.4371 0.6304)">15.98]</text>
<text class="pb" letter-spacing="2.78" transform="translate(15.59 807.00) scale(0.4300 0.6209)">Test</text>
<text class="pb" aria-hidden="true" letter-spacing="2.78" transform="translate(15.93 807.00) scale(0.4300 0.6209)">Test</text>
<text class="pb" aria-hidden="true" letter-spacing="2.78" transform="translate(16.27 807.00) scale(0.4300 0.6209)">Test</text>
<text class="pb" letter-spacing="2.78" transform="translate(60.50 807.00) scale(0.4312 0.6209)">for</text>
<text class="pb" aria-hidden="true" letter-spacing="2.78" transform="translate(60.84 807.00) scale(0.4312 0.6209)">for</text>
<text class="pb" aria-hidden="true" letter-spacing="2.78" transform="translate(61.18 807.00) scale(0.4312 0.6209)">for</text>
<text class="pb" letter-spacing="2.89" transform="translate(91.40 807.00) scale(0.4033 0.6209)">overall</text>
<text class="pb" aria-hidden="true" letter-spacing="2.89" transform="translate(91.74 807.00) scale(0.4033 0.6209)">overall</text>
<text class="pb" aria-hidden="true" letter-spacing="2.89" transform="translate(92.08 807.00) scale(0.4033 0.6209)">overall</text>
<text class="pb" letter-spacing="2.86" transform="translate(156.29 807.00) scale(0.4085 0.6209)">effect:</text>
<text class="pb" aria-hidden="true" letter-spacing="2.86" transform="translate(156.63 807.00) scale(0.4085 0.6209)">effect:</text>
<text class="pb" aria-hidden="true" letter-spacing="2.86" transform="translate(156.97 807.00) scale(0.4085 0.6209)">effect:</text>
<text class="pb" transform="translate(219.76 807.00) scale(0.4068 0.6209)">Z</text>
<text class="pb" aria-hidden="true" transform="translate(220.10 807.00) scale(0.4068 0.6209)">Z</text>
<text class="pb" aria-hidden="true" transform="translate(220.44 807.00) scale(0.4068 0.6209)">Z</text>
<text class="pb" transform="translate(237.47 807.00) scale(0.5290 0.6209)">=</text>
<text class="pb" aria-hidden="true" transform="translate(237.81 807.00) scale(0.5290 0.6209)">=</text>
<text class="pb" aria-hidden="true" transform="translate(238.15 807.00) scale(0.5290 0.6209)">=</text>
<text class="pb" letter-spacing="2.71" transform="translate(257.73 807.00) scale(0.4517 0.6304)">5.74</text>
<text class="pb" aria-hidden="true" letter-spacing="2.71" transform="translate(258.07 807.00) scale(0.4517 0.6304)">5.74</text>
<text class="pb" aria-hidden="true" letter-spacing="2.71" transform="translate(258.41 807.00) scale(0.4517 0.6304)">5.74</text>
<text class="pb" letter-spacing="3.00" transform="translate(304.47 807.00) scale(0.3786 0.6209)">(P</text>
<text class="pb" aria-hidden="true" letter-spacing="3.00" transform="translate(304.81 807.00) scale(0.3786 0.6209)">(P</text>
<text class="pb" aria-hidden="true" letter-spacing="3.00" transform="translate(305.15 807.00) scale(0.3786 0.6209)">(P</text>
<text class="pb" transform="translate(326.47 807.00) scale(0.5290 0.6209)">&lt;</text>
<text class="pb" aria-hidden="true" transform="translate(326.81 807.00) scale(0.5290 0.6209)">&lt;</text>
<text class="pb" aria-hidden="true" transform="translate(327.15 807.00) scale(0.5290 0.6209)">&lt;</text>
<text class="pb" letter-spacing="2.67" transform="translate(346.54 807.00) scale(0.4626 0.6304)">0.00001)</text>
<text class="pb" aria-hidden="true" letter-spacing="2.67" transform="translate(346.88 807.00) scale(0.4626 0.6304)">0.00001)</text>
<text class="pb" aria-hidden="true" letter-spacing="2.67" transform="translate(347.22 807.00) scale(0.4626 0.6304)">0.00001)</text>
<text class="pb" letter-spacing="2.66" transform="translate(742.53 792.00) scale(0.4660 0.6304)">0.01</text>
<text class="pb" aria-hidden="true" letter-spacing="2.66" transform="translate(742.87 792.00) scale(0.4660 0.6304)">0.01</text>
<text class="pb" aria-hidden="true" letter-spacing="2.66" transform="translate(743.21 792.00) scale(0.4660 0.6304)">0.01</text>
<text class="pb" letter-spacing="2.67" transform="translate(837.94 792.00) scale(0.4622 0.6304)">0.1</text>
<text class="pb" aria-hidden="true" letter-spacing="2.67" transform="translate(838.28 792.00) scale(0.4622 0.6304)">0.1</text>
<text class="pb" aria-hidden="true" letter-spacing="2.67" transform="translate(838.62 792.00) scale(0.4622 0.6304)">0.1</text>
<text class="pb" transform="translate(957.86 792.00) scale(0.4110 0.6304)">1</text>
<text class="pb" aria-hidden="true" transform="translate(958.20 792.00) scale(0.4110 0.6304)">1</text>
<text class="pb" aria-hidden="true" transform="translate(958.54 792.00) scale(0.4110 0.6304)">1</text>
<text class="pb" letter-spacing="2.61" transform="translate(1062.13 792.00) scale(0.4822 0.6304)">10</text>
<text class="pb" aria-hidden="true" letter-spacing="2.61" transform="translate(1062.47 792.00) scale(0.4822 0.6304)">10</text>
<text class="pb" aria-hidden="true" letter-spacing="2.61" transform="translate(1062.81 792.00) scale(0.4822 0.6304)">10</text>
<text class="pb" letter-spacing="2.64" transform="translate(1148.15 792.00) scale(0.4737 0.6304)">100</text>
<text class="pb" aria-hidden="true" letter-spacing="2.64" transform="translate(1148.49 792.00) scale(0.4737 0.6304)">100</text>
<text class="pb" aria-hidden="true" letter-spacing="2.64" transform="translate(1148.83 792.00) scale(0.4737 0.6304)">100</text>
<text class="pa" letter-spacing="4.26" transform="translate(15.15 407.00) scale(0.3932 0.9402)">Heterogeneity:</text>
<text class="pa" aria-hidden="true" letter-spacing="4.26" transform="translate(15.59 407.00) scale(0.3932 0.9402)">Heterogeneity:</text>
<text class="pa" aria-hidden="true" letter-spacing="4.26" transform="translate(16.03 407.00) scale(0.3932 0.9402)">Heterogeneity:</text>
<text class="pa" aria-hidden="true" letter-spacing="4.26" transform="translate(16.47 407.00) scale(0.3932 0.9402)">Heterogeneity:</text>
<text class="pa" letter-spacing="4.14" transform="translate(154.02 407.00) scale(0.4080 0.9402)">Tau<tspan dy="-16.0" font-size="24.8">2</tspan></text>
<text class="pa" aria-hidden="true" letter-spacing="4.14" transform="translate(154.46 407.00) scale(0.4080 0.9402)">Tau<tspan dy="-16.0" font-size="24.8">2</tspan></text>
<text class="pa" aria-hidden="true" letter-spacing="4.14" transform="translate(154.90 407.00) scale(0.4080 0.9402)">Tau<tspan dy="-16.0" font-size="24.8">2</tspan></text>
<text class="pa" aria-hidden="true" letter-spacing="4.14" transform="translate(155.34 407.00) scale(0.4080 0.9402)">Tau<tspan dy="-16.0" font-size="24.8">2</tspan></text>
<text class="pa" transform="translate(200.36 407.00) scale(0.5536 0.9402)">=</text>
<text class="pa" aria-hidden="true" transform="translate(200.80 407.00) scale(0.5536 0.9402)">=</text>
<text class="pa" aria-hidden="true" transform="translate(201.24 407.00) scale(0.5536 0.9402)">=</text>
<text class="pa" aria-hidden="true" transform="translate(201.68 407.00) scale(0.5536 0.9402)">=</text>
<text class="pa" letter-spacing="4.13" transform="translate(221.03 407.00) scale(0.4086 0.9594)">0.61;</text>
<text class="pa" aria-hidden="true" letter-spacing="4.13" transform="translate(221.47 407.00) scale(0.4086 0.9594)">0.61;</text>
<text class="pa" aria-hidden="true" letter-spacing="4.13" transform="translate(221.91 407.00) scale(0.4086 0.9594)">0.61;</text>
<text class="pa" aria-hidden="true" letter-spacing="4.13" transform="translate(222.35 407.00) scale(0.4086 0.9594)">0.61;</text>
<text class="pa" letter-spacing="4.20" transform="translate(273.54 407.00) scale(0.4005 0.9402)">Chi<tspan dy="-16.0" font-size="24.8">2</tspan></text>
<text class="pa" aria-hidden="true" letter-spacing="4.20" transform="translate(273.98 407.00) scale(0.4005 0.9402)">Chi<tspan dy="-16.0" font-size="24.8">2</tspan></text>
<text class="pa" aria-hidden="true" letter-spacing="4.20" transform="translate(274.42 407.00) scale(0.4005 0.9402)">Chi<tspan dy="-16.0" font-size="24.8">2</tspan></text>
<text class="pa" aria-hidden="true" letter-spacing="4.20" transform="translate(274.86 407.00) scale(0.4005 0.9402)">Chi<tspan dy="-16.0" font-size="24.8">2</tspan></text>
<text class="pa" transform="translate(317.42 407.00) scale(0.5062 0.9402)">=</text>
<text class="pa" aria-hidden="true" transform="translate(317.86 407.00) scale(0.5062 0.9402)">=</text>
<text class="pa" aria-hidden="true" transform="translate(318.30 407.00) scale(0.5062 0.9402)">=</text>
<text class="pa" aria-hidden="true" transform="translate(318.74 407.00) scale(0.5062 0.9402)">=</text>
<text class="pa" letter-spacing="3.99" transform="translate(337.59 407.00) scale(0.4270 0.9594)">20.63,</text>
<text class="pa" aria-hidden="true" letter-spacing="3.99" transform="translate(338.03 407.00) scale(0.4270 0.9594)">20.63,</text>
<text class="pa" aria-hidden="true" letter-spacing="3.99" transform="translate(338.47 407.00) scale(0.4270 0.9594)">20.63,</text>
<text class="pa" aria-hidden="true" letter-spacing="3.99" transform="translate(338.91 407.00) scale(0.4270 0.9594)">20.63,</text>
<text class="pa" letter-spacing="3.79" transform="translate(401.47 407.00) scale(0.4568 0.9402)">df</text>
<text class="pa" aria-hidden="true" letter-spacing="3.79" transform="translate(401.91 407.00) scale(0.4568 0.9402)">df</text>
<text class="pa" aria-hidden="true" letter-spacing="3.79" transform="translate(402.35 407.00) scale(0.4568 0.9402)">df</text>
<text class="pa" aria-hidden="true" letter-spacing="3.79" transform="translate(402.79 407.00) scale(0.4568 0.9402)">df</text>
<text class="pa" transform="translate(427.42 407.00) scale(0.5062 0.9402)">=</text>
<text class="pa" aria-hidden="true" transform="translate(427.86 407.00) scale(0.5062 0.9402)">=</text>
<text class="pa" aria-hidden="true" transform="translate(428.30 407.00) scale(0.5062 0.9402)">=</text>
<text class="pa" aria-hidden="true" transform="translate(428.74 407.00) scale(0.5062 0.9402)">=</text>
<text class="pa" transform="translate(447.80 407.00) scale(0.3710 0.9594)">3</text>
<text class="pa" aria-hidden="true" transform="translate(448.24 407.00) scale(0.3710 0.9594)">3</text>
<text class="pa" aria-hidden="true" transform="translate(448.68 407.00) scale(0.3710 0.9594)">3</text>
<text class="pa" aria-hidden="true" transform="translate(449.12 407.00) scale(0.3710 0.9594)">3</text>
<text class="pa" letter-spacing="4.38" transform="translate(464.71 407.00) scale(0.3798 0.9402)">(P</text>
<text class="pa" aria-hidden="true" letter-spacing="4.38" transform="translate(465.15 407.00) scale(0.3798 0.9402)">(P</text>
<text class="pa" aria-hidden="true" letter-spacing="4.38" transform="translate(465.59 407.00) scale(0.3798 0.9402)">(P</text>
<text class="pa" aria-hidden="true" letter-spacing="4.38" transform="translate(466.03 407.00) scale(0.3798 0.9402)">(P</text>
<text class="pa" transform="translate(487.42 407.00) scale(0.5062 0.9402)">=</text>
<text class="pa" aria-hidden="true" transform="translate(487.86 407.00) scale(0.5062 0.9402)">=</text>
<text class="pa" aria-hidden="true" transform="translate(488.30 407.00) scale(0.5062 0.9402)">=</text>
<text class="pa" aria-hidden="true" transform="translate(488.74 407.00) scale(0.5062 0.9402)">=</text>
<text class="pa" letter-spacing="3.94" transform="translate(506.50 407.00) scale(0.4340 0.9594)">0.0001);</text>
<text class="pa" aria-hidden="true" letter-spacing="3.94" transform="translate(506.94 407.00) scale(0.4340 0.9594)">0.0001);</text>
<text class="pa" aria-hidden="true" letter-spacing="3.94" transform="translate(507.38 407.00) scale(0.4340 0.9594)">0.0001);</text>
<text class="pa" aria-hidden="true" letter-spacing="3.94" transform="translate(507.82 407.00) scale(0.4340 0.9594)">0.0001);</text>
<text class="pa" letter-spacing="5.04" transform="translate(590.31 407.00) scale(0.3188 0.9402)">I<tspan dy="-16.0" font-size="24.8">2</tspan></text>
<text class="pa" aria-hidden="true" letter-spacing="5.04" transform="translate(590.75 407.00) scale(0.3188 0.9402)">I<tspan dy="-16.0" font-size="24.8">2</tspan></text>
<text class="pa" aria-hidden="true" letter-spacing="5.04" transform="translate(591.19 407.00) scale(0.3188 0.9402)">I<tspan dy="-16.0" font-size="24.8">2</tspan></text>
<text class="pa" aria-hidden="true" letter-spacing="5.04" transform="translate(591.63 407.00) scale(0.3188 0.9402)">I<tspan dy="-16.0" font-size="24.8">2</tspan></text>
<text class="pa" transform="translate(609.42 407.00) scale(0.5062 0.9402)">=</text>
<text class="pa" aria-hidden="true" transform="translate(609.86 407.00) scale(0.5062 0.9402)">=</text>
<text class="pa" aria-hidden="true" transform="translate(610.30 407.00) scale(0.5062 0.9402)">=</text>
<text class="pa" aria-hidden="true" transform="translate(610.74 407.00) scale(0.5062 0.9402)">=</text>
<text class="pa" letter-spacing="4.29" transform="translate(629.71 407.00) scale(0.3893 0.9594)">85%</text>
<text class="pa" aria-hidden="true" letter-spacing="4.29" transform="translate(630.15 407.00) scale(0.3893 0.9594)">85%</text>
<text class="pa" aria-hidden="true" letter-spacing="4.29" transform="translate(630.59 407.00) scale(0.3893 0.9594)">85%</text>
<text class="pa" aria-hidden="true" letter-spacing="4.29" transform="translate(631.03 407.00) scale(0.3893 0.9594)">85%</text>
<text class="pb" letter-spacing="2.83" transform="translate(15.16 777.00) scale(0.4183 0.6209)">Heterogeneity:</text>
<text class="pb" aria-hidden="true" letter-spacing="2.83" transform="translate(15.50 777.00) scale(0.4183 0.6209)">Heterogeneity:</text>
<text class="pb" aria-hidden="true" letter-spacing="2.83" transform="translate(15.84 777.00) scale(0.4183 0.6209)">Heterogeneity:</text>
<text class="pb" letter-spacing="2.77" transform="translate(154.09 777.00) scale(0.4323 0.6209)">Tau<tspan dy="-16.0" font-size="24.8">2</tspan></text>
<text class="pb" aria-hidden="true" letter-spacing="2.77" transform="translate(154.43 777.00) scale(0.4323 0.6209)">Tau<tspan dy="-16.0" font-size="24.8">2</tspan></text>
<text class="pb" aria-hidden="true" letter-spacing="2.77" transform="translate(154.77 777.00) scale(0.4323 0.6209)">Tau<tspan dy="-16.0" font-size="24.8">2</tspan></text>
<text class="pb" transform="translate(200.42 777.00) scale(0.5757 0.6209)">=</text>
<text class="pb" aria-hidden="true" transform="translate(200.76 777.00) scale(0.5757 0.6209)">=</text>
<text class="pb" aria-hidden="true" transform="translate(201.10 777.00) scale(0.5757 0.6209)">=</text>
<text class="pb" letter-spacing="2.76" transform="translate(221.06 777.00) scale(0.4368 0.6304)">0.37;</text>
<text class="pb" aria-hidden="true" letter-spacing="2.76" transform="translate(221.40 777.00) scale(0.4368 0.6304)">0.37;</text>
<text class="pb" aria-hidden="true" letter-spacing="2.76" transform="translate(221.74 777.00) scale(0.4368 0.6304)">0.37;</text>
<text class="pb" letter-spacing="2.79" transform="translate(273.57 777.00) scale(0.4263 0.6209)">Chi<tspan dy="-16.0" font-size="24.8">2</tspan></text>
<text class="pb" aria-hidden="true" letter-spacing="2.79" transform="translate(273.91 777.00) scale(0.4263 0.6209)">Chi<tspan dy="-16.0" font-size="24.8">2</tspan></text>
<text class="pb" aria-hidden="true" letter-spacing="2.79" transform="translate(274.25 777.00) scale(0.4263 0.6209)">Chi<tspan dy="-16.0" font-size="24.8">2</tspan></text>
<text class="pb" transform="translate(317.47 777.00) scale(0.5290 0.6209)">=</text>
<text class="pb" aria-hidden="true" transform="translate(317.81 777.00) scale(0.5290 0.6209)">=</text>
<text class="pb" aria-hidden="true" transform="translate(318.15 777.00) scale(0.5290 0.6209)">=</text>
<text class="pb" letter-spacing="2.69" transform="translate(337.18 777.00) scale(0.4578 0.6304)">15.87,</text>
<text class="pb" aria-hidden="true" letter-spacing="2.69" transform="translate(337.52 777.00) scale(0.4578 0.6304)">15.87,</text>
<text class="pb" aria-hidden="true" letter-spacing="2.69" transform="translate(337.86 777.00) scale(0.4578 0.6304)">15.87,</text>
<text class="pb" letter-spacing="2.61" transform="translate(401.52 777.00) scale(0.4829 0.6209)">df</text>
<text class="pb" aria-hidden="true" letter-spacing="2.61" transform="translate(401.86 777.00) scale(0.4829 0.6209)">df</text>
<text class="pb" aria-hidden="true" letter-spacing="2.61" transform="translate(402.20 777.00) scale(0.4829 0.6209)">df</text>
<text class="pb" transform="translate(427.47 777.00) scale(0.5290 0.6209)">=</text>
<text class="pb" aria-hidden="true" transform="translate(427.81 777.00) scale(0.5290 0.6209)">=</text>
<text class="pb" aria-hidden="true" transform="translate(428.15 777.00) scale(0.5290 0.6209)">=</text>
<text class="pb" transform="translate(447.84 777.00) scale(0.3962 0.6304)">3</text>
<text class="pb" aria-hidden="true" transform="translate(448.18 777.00) scale(0.3962 0.6304)">3</text>
<text class="pb" aria-hidden="true" transform="translate(448.52 777.00) scale(0.3962 0.6304)">3</text>
<text class="pb" letter-spacing="2.87" transform="translate(464.73 777.00) scale(0.4066 0.6209)">(P</text>
<text class="pb" aria-hidden="true" letter-spacing="2.87" transform="translate(465.07 777.00) scale(0.4066 0.6209)">(P</text>
<text class="pb" aria-hidden="true" letter-spacing="2.87" transform="translate(465.41 777.00) scale(0.4066 0.6209)">(P</text>
<text class="pb" transform="translate(487.47 777.00) scale(0.5290 0.6209)">=</text>
<text class="pb" aria-hidden="true" transform="translate(487.81 777.00) scale(0.5290 0.6209)">=</text>
<text class="pb" aria-hidden="true" transform="translate(488.15 777.00) scale(0.5290 0.6209)">=</text>
<text class="pb" letter-spacing="2.69" transform="translate(506.54 777.00) scale(0.4564 0.6304)">0.001);</text>
<text class="pb" aria-hidden="true" letter-spacing="2.69" transform="translate(506.88 777.00) scale(0.4564 0.6304)">0.001);</text>
<text class="pb" aria-hidden="true" letter-spacing="2.69" transform="translate(507.22 777.00) scale(0.4564 0.6304)">0.001);</text>
<text class="pb" letter-spacing="2.94" transform="translate(578.22 777.00) scale(0.3901 0.6209)">I<tspan dy="-16.0" font-size="24.8">2</tspan></text>
<text class="pb" aria-hidden="true" letter-spacing="2.94" transform="translate(578.56 777.00) scale(0.3901 0.6209)">I<tspan dy="-16.0" font-size="24.8">2</tspan></text>
<text class="pb" aria-hidden="true" letter-spacing="2.94" transform="translate(578.90 777.00) scale(0.3901 0.6209)">I<tspan dy="-16.0" font-size="24.8">2</tspan></text>
<text class="pb" transform="translate(597.47 777.00) scale(0.5290 0.6209)">=</text>
<text class="pb" aria-hidden="true" transform="translate(597.81 777.00) scale(0.5290 0.6209)">=</text>
<text class="pb" aria-hidden="true" transform="translate(598.15 777.00) scale(0.5290 0.6209)">=</text>
<text class="pb" letter-spacing="2.88" transform="translate(617.76 777.00) scale(0.4049 0.6304)">81%</text>
<text class="pb" aria-hidden="true" letter-spacing="2.88" transform="translate(618.10 777.00) scale(0.4049 0.6304)">81%</text>
<text class="pb" aria-hidden="true" letter-spacing="2.88" transform="translate(618.44 777.00) scale(0.4049 0.6304)">81%</text>
</g>
<text class="lbl" text-anchor="middle" transform="translate(1158.2 488.3) scale(0.95 1)">A</text>
<text class="lbl" text-anchor="middle" transform="translate(1158.4 828.1) scale(0.88 1)">B</text>
</svg>
</body>
</html>
